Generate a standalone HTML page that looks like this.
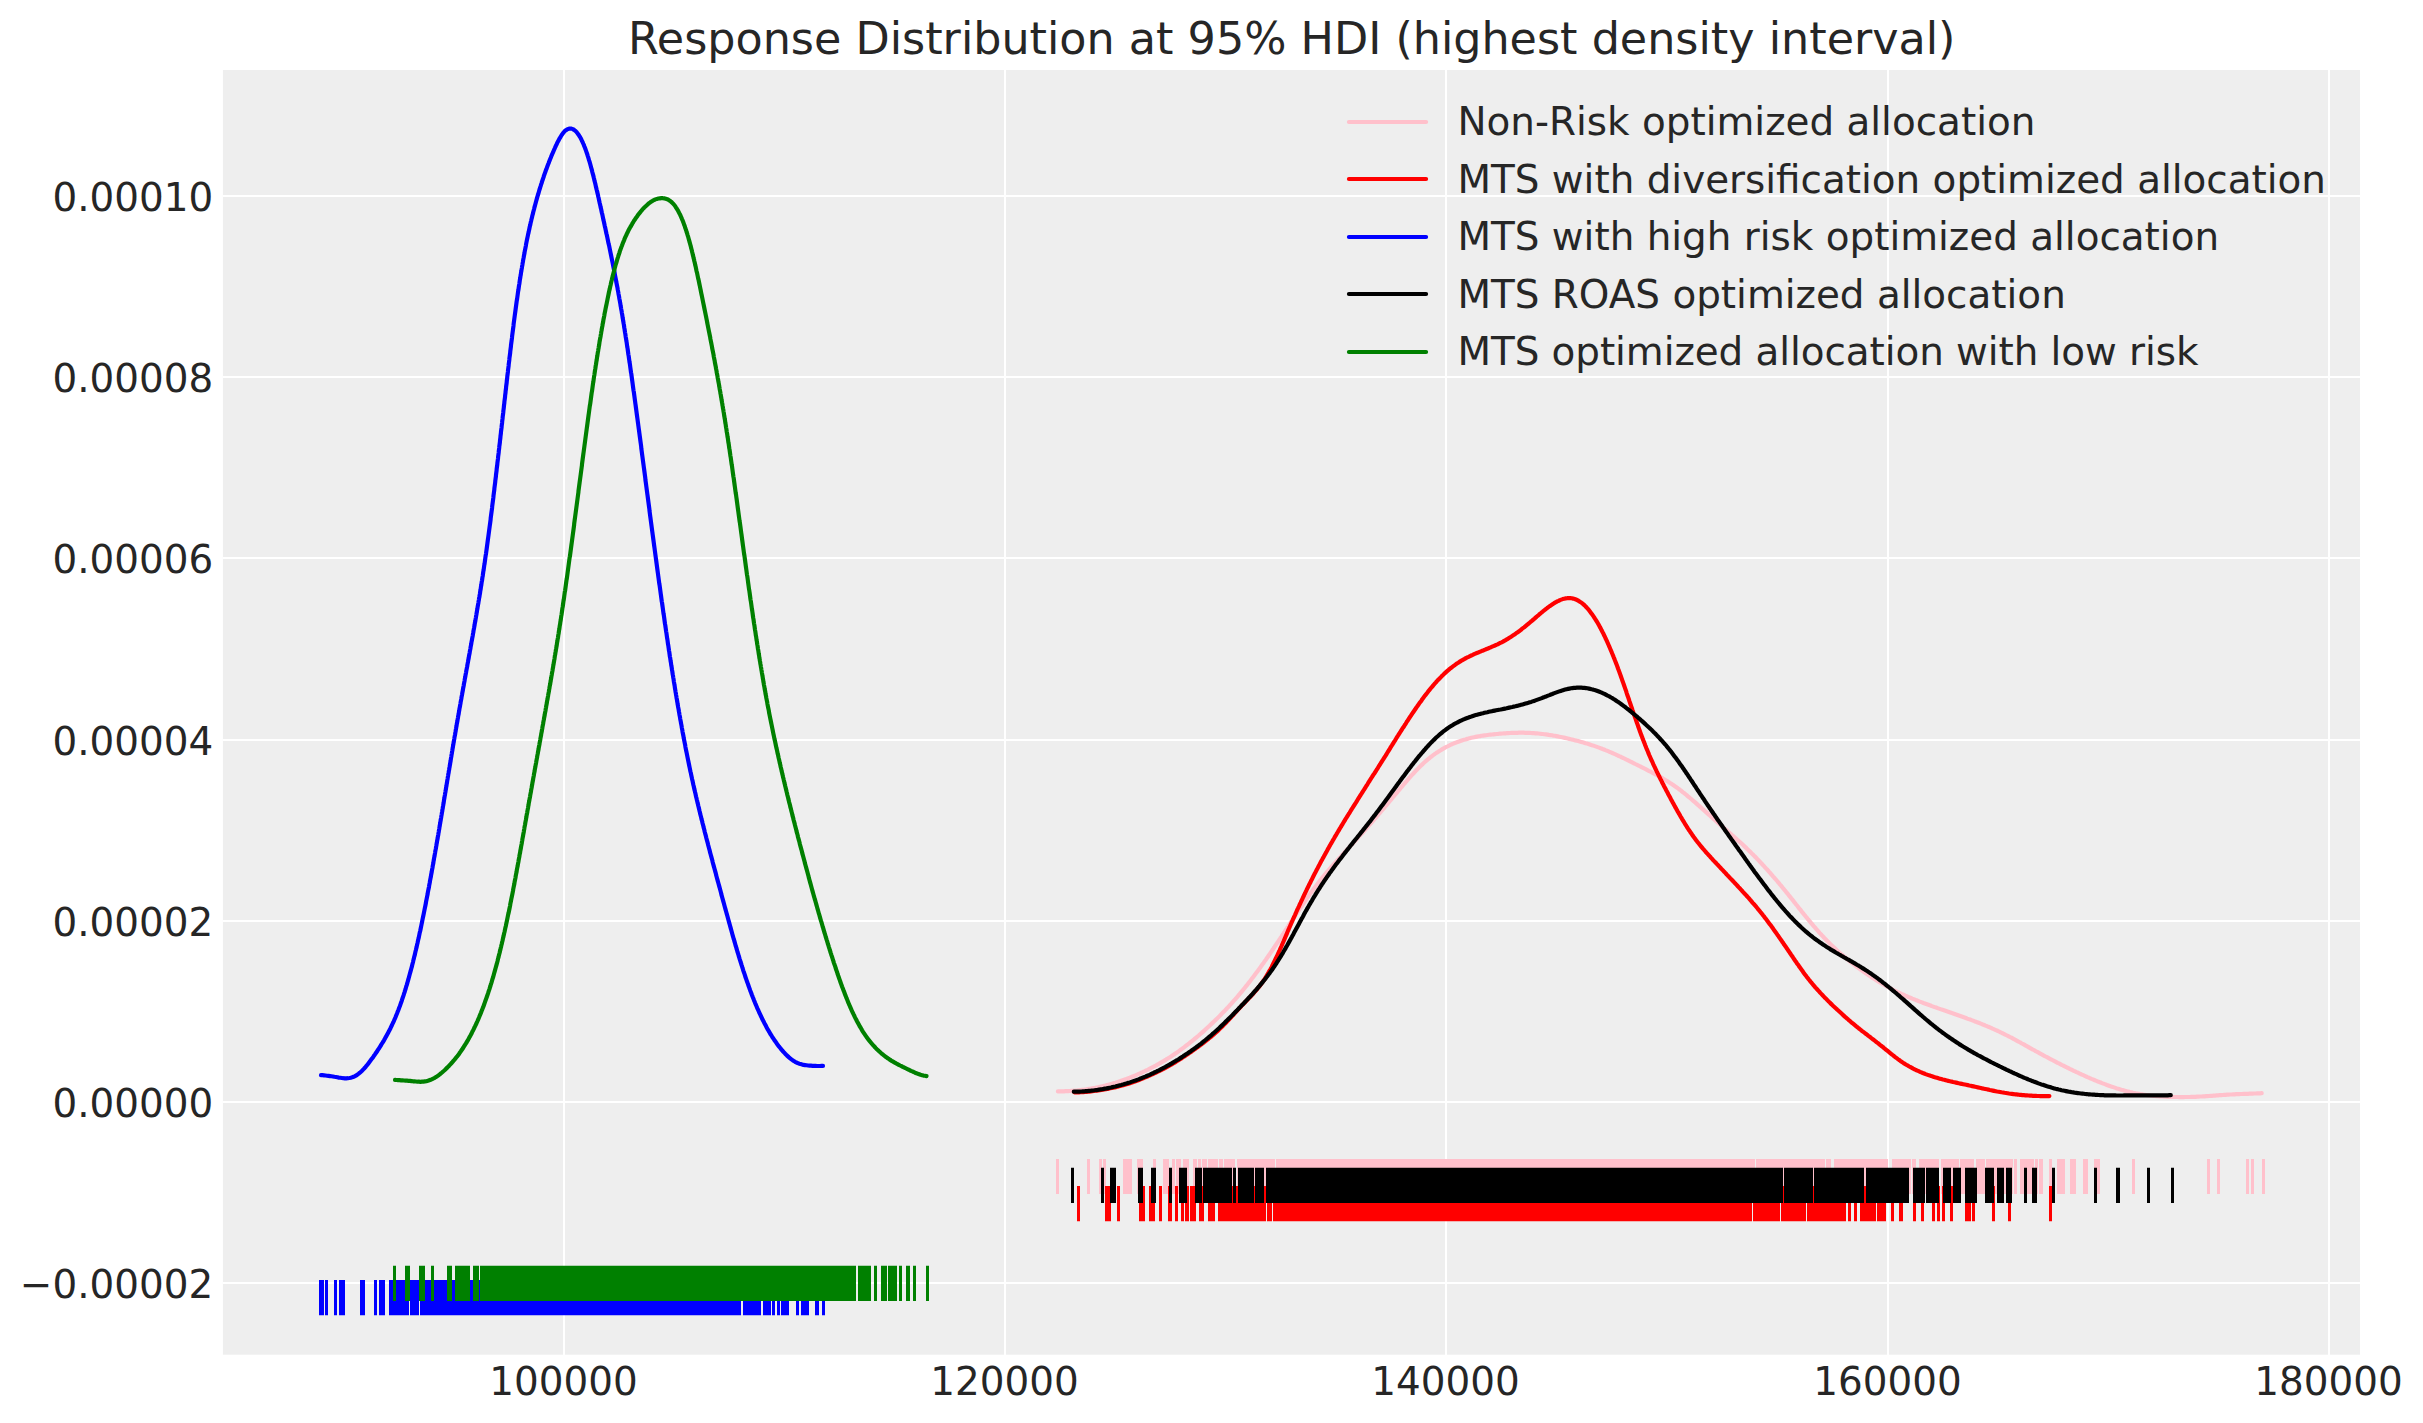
<!DOCTYPE html>
<html lang="en"><head><meta charset="utf-8"><title>Response Distribution at 95% HDI</title>
<style>
html,body{margin:0;padding:0;background:#fff;}
body{width:2423px;height:1423px;overflow:hidden;}
svg{display:block;}
text{font-family:"DejaVu Sans","Liberation Sans",sans-serif;fill:#262626;}
.t{font-size:38.89px;}
.title{font-size:44.44px;}
</style></head><body>
<svg width="2423" height="1423" viewBox="0 0 2423 1423">
<rect x="0" y="0" width="2423" height="1423" fill="#ffffff"/>
<rect x="222.9" y="70.0" width="2137.1" height="1284.7" fill="#eeeeee"/>
<g fill="#ffffff" shape-rendering="crispEdges">
<rect x="563" y="70.0" width="2" height="1284.7"/>
<rect x="1004" y="70.0" width="2" height="1284.7"/>
<rect x="1445" y="70.0" width="2" height="1284.7"/>
<rect x="1887" y="70.0" width="2" height="1284.7"/>
<rect x="2328" y="70.0" width="2" height="1284.7"/>
<rect x="222.9" y="195" width="2137.1" height="2"/>
<rect x="222.9" y="376" width="2137.1" height="2"/>
<rect x="222.9" y="557" width="2137.1" height="2"/>
<rect x="222.9" y="739" width="2137.1" height="2"/>
<rect x="222.9" y="920" width="2137.1" height="2"/>
<rect x="222.9" y="1101" width="2137.1" height="2"/>
<rect x="222.9" y="1282" width="2137.1" height="2"/>
</g>
<path d="M1057.9,1091.4 L1059.4,1091.4 L1060.9,1091.4 L1062.4,1091.4 L1063.9,1091.3 L1065.4,1091.2 L1066.9,1091.2 L1068.4,1091.1 L1069.9,1091.0 L1071.4,1090.9 L1072.9,1090.8 L1074.4,1090.7 L1075.9,1090.5 L1077.4,1090.4 L1078.9,1090.2 L1080.4,1090.1 L1081.9,1089.9 L1083.4,1089.7 L1084.9,1089.5 L1086.3,1089.3 L1087.8,1089.0 L1089.3,1088.8 L1090.8,1088.6 L1092.3,1088.3 L1093.8,1088.0 L1095.2,1087.8 L1096.7,1087.5 L1098.2,1087.2 L1099.6,1086.9 L1101.1,1086.5 L1102.6,1086.2 L1104.0,1085.9 L1105.5,1085.5 L1107.0,1085.1 L1108.4,1084.7 L1109.9,1084.4 L1111.3,1083.9 L1112.8,1083.5 L1114.2,1083.1 L1115.6,1082.7 L1117.1,1082.2 L1118.5,1081.7 L1119.9,1081.3 L1121.3,1080.8 L1122.8,1080.3 L1124.2,1079.8 L1125.6,1079.3 L1127.0,1078.7 L1128.4,1078.2 L1129.8,1077.7 L1131.2,1077.1 L1132.6,1076.5 L1134.0,1076.0 L1135.4,1075.4 L1136.7,1074.8 L1138.1,1074.2 L1139.5,1073.6 L1140.9,1073.0 L1142.2,1072.4 L1143.6,1071.7 L1145.0,1071.1 L1146.3,1070.4 L1147.7,1069.8 L1149.0,1069.1 L1150.3,1068.4 L1151.7,1067.7 L1153.0,1067.0 L1154.3,1066.3 L1155.7,1065.6 L1157.0,1064.9 L1158.3,1064.2 L1159.6,1063.4 L1160.9,1062.7 L1162.2,1061.9 L1163.5,1061.2 L1164.8,1060.4 L1166.1,1059.6 L1167.3,1058.8 L1168.6,1058.0 L1169.9,1057.2 L1171.1,1056.4 L1172.4,1055.5 L1173.6,1054.7 L1174.9,1053.9 L1176.1,1053.0 L1177.4,1052.2 L1178.6,1051.3 L1179.8,1050.4 L1181.0,1049.5 L1182.2,1048.7 L1183.4,1047.8 L1184.6,1046.9 L1185.8,1045.9 L1187.0,1045.0 L1188.2,1044.1 L1189.4,1043.2 L1190.6,1042.2 L1191.7,1041.3 L1192.9,1040.3 L1194.1,1039.4 L1195.2,1038.4 L1196.4,1037.5 L1197.5,1036.5 L1198.7,1035.5 L1199.8,1034.5 L1200.9,1033.5 L1202.1,1032.6 L1203.2,1031.6 L1204.3,1030.6 L1205.4,1029.5 L1206.5,1028.5 L1207.6,1027.5 L1208.7,1026.5 L1209.8,1025.5 L1210.9,1024.4 L1212.0,1023.4 L1213.1,1022.4 L1214.2,1021.3 L1215.3,1020.3 L1216.3,1019.2 L1217.4,1018.2 L1218.5,1017.1 L1219.5,1016.1 L1220.6,1015.0 L1221.6,1013.9 L1222.7,1012.8 L1223.7,1011.8 L1224.8,1010.7 L1225.8,1009.6 L1226.8,1008.5 L1227.9,1007.4 L1228.9,1006.3 L1229.9,1005.2 L1230.9,1004.1 L1231.9,1003.0 L1232.9,1001.8 L1233.9,1000.7 L1234.9,999.6 L1235.9,998.5 L1236.9,997.3 L1237.9,996.2 L1238.8,995.0 L1239.8,993.9 L1240.8,992.7 L1241.7,991.6 L1242.7,990.4 L1243.6,989.3 L1244.6,988.1 L1245.5,986.9 L1246.5,985.7 L1247.4,984.6 L1248.3,983.4 L1249.3,982.2 L1250.2,981.0 L1251.1,979.8 L1252.0,978.6 L1252.9,977.4 L1253.8,976.2 L1254.7,975.0 L1255.6,973.8 L1256.5,972.6 L1257.4,971.4 L1258.3,970.2 L1259.2,969.0 L1260.1,967.8 L1260.9,966.6 L1261.8,965.3 L1262.7,964.1 L1263.6,962.9 L1264.4,961.7 L1265.3,960.4 L1266.2,959.2 L1267.0,958.0 L1267.9,956.7 L1268.7,955.5 L1269.6,954.3 L1270.4,953.0 L1271.3,951.8 L1272.1,950.5 L1273.0,949.3 L1273.8,948.0 L1274.6,946.8 L1275.5,945.6 L1276.3,944.3 L1277.2,943.1 L1278.0,941.8 L1278.8,940.6 L1279.7,939.3 L1280.5,938.0 L1281.3,936.8 L1282.1,935.5 L1283.0,934.3 L1283.8,933.0 L1284.6,931.8 L1285.4,930.5 L1286.3,929.3 L1287.1,928.0 L1287.9,926.8 L1288.7,925.5 L1289.6,924.2 L1290.4,923.0 L1291.2,921.7 L1292.0,920.5 L1292.9,919.2 L1293.7,918.0 L1294.5,916.7 L1295.4,915.5 L1296.2,914.2 L1297.0,913.0 L1297.8,911.7 L1298.7,910.5 L1299.5,909.2 L1300.3,908.0 L1301.2,906.7 L1302.0,905.5 L1302.9,904.2 L1303.7,903.0 L1304.6,901.7 L1305.4,900.5 L1306.3,899.3 L1307.1,898.0 L1308.0,896.8 L1308.9,895.6 L1309.7,894.3 L1310.6,893.1 L1311.5,891.9 L1312.4,890.7 L1313.3,889.5 L1314.2,888.3 L1315.1,887.1 L1316.0,885.9 L1316.9,884.7 L1317.8,883.5 L1318.7,882.3 L1319.6,881.1 L1320.6,879.9 L1321.5,878.8 L1322.4,877.6 L1323.4,876.4 L1324.3,875.3 L1325.3,874.1 L1326.3,872.9 L1327.2,871.8 L1328.2,870.6 L1329.2,869.5 L1330.2,868.4 L1331.1,867.2 L1332.1,866.1 L1333.1,865.0 L1334.1,863.8 L1335.1,862.7 L1336.1,861.6 L1337.1,860.5 L1338.1,859.4 L1339.1,858.3 L1340.2,857.2 L1341.2,856.0 L1342.2,854.9 L1343.2,853.8 L1344.2,852.7 L1345.2,851.6 L1346.3,850.5 L1347.3,849.4 L1348.3,848.3 L1349.3,847.2 L1350.3,846.1 L1351.4,845.0 L1352.4,843.9 L1353.4,842.8 L1354.4,841.7 L1355.4,840.6 L1356.4,839.4 L1357.4,838.3 L1358.4,837.2 L1359.4,836.1 L1360.4,835.0 L1361.5,833.9 L1362.5,832.8 L1363.5,831.6 L1364.5,830.5 L1365.5,829.4 L1366.5,828.3 L1367.4,827.1 L1368.4,826.0 L1369.4,824.9 L1370.4,823.8 L1371.4,822.6 L1372.4,821.5 L1373.4,820.4 L1374.4,819.2 L1375.4,818.1 L1376.4,817.0 L1377.3,815.8 L1378.3,814.7 L1379.3,813.5 L1380.3,812.4 L1381.2,811.3 L1382.2,810.1 L1383.2,809.0 L1384.2,807.8 L1385.1,806.7 L1386.1,805.5 L1387.1,804.4 L1388.0,803.2 L1389.0,802.1 L1389.9,800.9 L1390.9,799.8 L1391.9,798.6 L1392.8,797.4 L1393.8,796.3 L1394.7,795.1 L1395.7,794.0 L1396.7,792.8 L1397.6,791.7 L1398.6,790.5 L1399.6,789.4 L1400.5,788.2 L1401.5,787.1 L1402.5,785.9 L1403.4,784.8 L1404.4,783.6 L1405.4,782.5 L1406.4,781.3 L1407.3,780.2 L1408.3,779.1 L1409.3,777.9 L1410.3,776.8 L1411.3,775.7 L1412.3,774.6 L1413.4,773.5 L1414.4,772.4 L1415.4,771.3 L1416.4,770.2 L1417.5,769.1 L1418.5,768.1 L1419.6,767.0 L1420.7,765.9 L1421.8,764.9 L1422.9,763.9 L1424.0,762.8 L1425.1,761.8 L1426.2,760.8 L1427.3,759.9 L1428.5,758.9 L1429.7,758.0 L1430.8,757.0 L1432.0,756.1 L1433.2,755.2 L1434.4,754.3 L1435.7,753.4 L1436.9,752.6 L1438.2,751.8 L1439.4,751.0 L1440.7,750.2 L1442.0,749.4 L1443.3,748.6 L1444.6,747.9 L1445.9,747.2 L1447.3,746.5 L1448.6,745.8 L1449.9,745.2 L1451.3,744.5 L1452.7,743.9 L1454.1,743.3 L1455.5,742.8 L1456.9,742.2 L1458.3,741.7 L1459.7,741.2 L1461.1,740.7 L1462.5,740.2 L1464.0,739.8 L1465.4,739.4 L1466.9,738.9 L1468.3,738.6 L1469.8,738.2 L1471.2,737.8 L1472.7,737.5 L1474.2,737.2 L1475.6,736.9 L1477.1,736.6 L1478.6,736.3 L1480.1,736.1 L1481.5,735.8 L1483.0,735.6 L1484.5,735.4 L1486.0,735.2 L1487.5,735.0 L1489.0,734.8 L1490.5,734.6 L1492.0,734.5 L1493.5,734.3 L1495.0,734.2 L1496.5,734.0 L1498.0,733.9 L1499.4,733.7 L1500.9,733.6 L1502.4,733.5 L1503.9,733.4 L1505.4,733.3 L1506.9,733.2 L1508.4,733.1 L1509.9,733.0 L1511.4,732.9 L1512.9,732.9 L1514.4,732.8 L1515.9,732.8 L1517.4,732.8 L1519.0,732.7 L1520.5,732.7 L1522.0,732.7 L1523.5,732.7 L1525.0,732.8 L1526.5,732.8 L1528.0,732.8 L1529.5,732.9 L1531.0,733.0 L1532.5,733.1 L1534.0,733.2 L1535.5,733.3 L1537.0,733.4 L1538.5,733.5 L1540.0,733.7 L1541.4,733.9 L1542.9,734.0 L1544.4,734.2 L1545.9,734.4 L1547.4,734.6 L1548.9,734.9 L1550.4,735.1 L1551.9,735.3 L1553.3,735.6 L1554.8,735.8 L1556.3,736.1 L1557.8,736.4 L1559.2,736.7 L1560.7,737.0 L1562.2,737.3 L1563.7,737.6 L1565.1,737.9 L1566.6,738.2 L1568.1,738.6 L1569.5,738.9 L1571.0,739.3 L1572.4,739.6 L1573.9,740.0 L1575.4,740.4 L1576.8,740.7 L1578.3,741.1 L1579.7,741.5 L1581.2,741.9 L1582.6,742.3 L1584.1,742.7 L1585.5,743.2 L1586.9,743.6 L1588.4,744.0 L1589.8,744.5 L1591.2,745.0 L1592.7,745.4 L1594.1,745.9 L1595.5,746.4 L1596.9,746.9 L1598.3,747.4 L1599.7,747.9 L1601.2,748.4 L1602.6,749.0 L1604.0,749.5 L1605.4,750.1 L1606.7,750.6 L1608.1,751.2 L1609.5,751.8 L1610.9,752.4 L1612.3,753.0 L1613.7,753.6 L1615.0,754.2 L1616.4,754.8 L1617.8,755.5 L1619.1,756.1 L1620.5,756.7 L1621.8,757.4 L1623.2,758.0 L1624.6,758.7 L1625.9,759.3 L1627.3,760.0 L1628.6,760.6 L1630.0,761.3 L1631.3,762.0 L1632.6,762.6 L1634.0,763.3 L1635.3,764.0 L1636.7,764.7 L1638.0,765.3 L1639.4,766.0 L1640.7,766.7 L1642.0,767.4 L1643.4,768.0 L1644.7,768.7 L1646.1,769.4 L1647.4,770.1 L1648.7,770.8 L1650.1,771.5 L1651.4,772.2 L1652.7,772.9 L1654.1,773.6 L1655.4,774.3 L1656.7,775.0 L1658.0,775.7 L1659.3,776.5 L1660.6,777.2 L1661.9,777.9 L1663.2,778.7 L1664.5,779.5 L1665.8,780.3 L1667.1,781.0 L1668.4,781.8 L1669.6,782.7 L1670.9,783.5 L1672.1,784.3 L1673.4,785.1 L1674.6,786.0 L1675.8,786.9 L1677.1,787.7 L1678.3,788.6 L1679.5,789.5 L1680.7,790.4 L1681.9,791.4 L1683.0,792.3 L1684.2,793.2 L1685.4,794.2 L1686.6,795.1 L1687.7,796.1 L1688.9,797.1 L1690.0,798.0 L1691.2,799.0 L1692.3,800.0 L1693.4,801.0 L1694.6,801.9 L1695.7,802.9 L1696.8,803.9 L1697.9,804.9 L1699.1,805.9 L1700.2,806.9 L1701.3,807.9 L1702.4,808.9 L1703.6,809.9 L1704.7,810.9 L1705.8,811.9 L1706.9,812.9 L1708.0,813.9 L1709.1,814.9 L1710.3,815.9 L1711.4,816.9 L1712.5,817.9 L1713.6,818.9 L1714.8,819.9 L1715.9,820.9 L1717.0,821.9 L1718.1,822.9 L1719.3,823.9 L1720.4,824.9 L1721.5,825.9 L1722.7,826.9 L1723.8,827.8 L1724.9,828.8 L1726.1,829.8 L1727.2,830.8 L1728.3,831.8 L1729.5,832.8 L1730.6,833.8 L1731.7,834.8 L1732.9,835.8 L1734.0,836.8 L1735.1,837.8 L1736.2,838.8 L1737.3,839.8 L1738.5,840.8 L1739.6,841.8 L1740.7,842.8 L1741.8,843.8 L1742.9,844.8 L1744.0,845.9 L1745.1,846.9 L1746.2,847.9 L1747.2,849.0 L1748.3,850.0 L1749.4,851.1 L1750.5,852.1 L1751.5,853.2 L1752.6,854.2 L1753.7,855.3 L1754.7,856.4 L1755.8,857.4 L1756.8,858.5 L1757.9,859.6 L1758.9,860.7 L1759.9,861.8 L1761.0,862.9 L1762.0,864.0 L1763.0,865.1 L1764.0,866.2 L1765.0,867.3 L1766.0,868.4 L1767.1,869.5 L1768.1,870.6 L1769.1,871.8 L1770.1,872.9 L1771.0,874.0 L1772.0,875.1 L1773.0,876.3 L1774.0,877.4 L1775.0,878.6 L1776.0,879.7 L1776.9,880.8 L1777.9,882.0 L1778.9,883.1 L1779.8,884.3 L1780.8,885.4 L1781.8,886.6 L1782.7,887.8 L1783.7,888.9 L1784.6,890.1 L1785.6,891.2 L1786.5,892.4 L1787.5,893.6 L1788.4,894.8 L1789.3,895.9 L1790.3,897.1 L1791.2,898.3 L1792.2,899.4 L1793.1,900.6 L1794.0,901.8 L1795.0,903.0 L1795.9,904.2 L1796.8,905.3 L1797.8,906.5 L1798.7,907.7 L1799.6,908.9 L1800.6,910.0 L1801.5,911.2 L1802.4,912.4 L1803.4,913.6 L1804.3,914.7 L1805.3,915.9 L1806.2,917.1 L1807.2,918.2 L1808.1,919.4 L1809.1,920.5 L1810.0,921.7 L1811.0,922.9 L1812.0,924.0 L1812.9,925.2 L1813.9,926.3 L1814.9,927.4 L1815.9,928.6 L1816.9,929.7 L1817.8,930.8 L1818.8,932.0 L1819.8,933.1 L1820.9,934.2 L1821.9,935.3 L1822.9,936.4 L1823.9,937.5 L1825.0,938.6 L1826.0,939.7 L1827.0,940.8 L1828.1,941.8 L1829.2,942.9 L1830.2,943.9 L1831.3,945.0 L1832.4,946.0 L1833.5,947.1 L1834.6,948.1 L1835.7,949.1 L1836.8,950.2 L1837.9,951.2 L1839.0,952.2 L1840.1,953.2 L1841.2,954.2 L1842.4,955.2 L1843.5,956.1 L1844.7,957.1 L1845.8,958.1 L1847.0,959.0 L1848.1,960.0 L1849.3,960.9 L1850.5,961.9 L1851.6,962.8 L1852.8,963.7 L1854.0,964.7 L1855.2,965.6 L1856.4,966.5 L1857.6,967.4 L1858.8,968.3 L1860.0,969.2 L1861.2,970.0 L1862.5,970.9 L1863.7,971.8 L1864.9,972.7 L1866.1,973.5 L1867.4,974.4 L1868.6,975.2 L1869.9,976.0 L1871.1,976.9 L1872.4,977.7 L1873.6,978.5 L1874.9,979.3 L1876.2,980.1 L1877.5,980.9 L1878.7,981.7 L1880.0,982.5 L1881.3,983.3 L1882.6,984.0 L1883.9,984.8 L1885.2,985.5 L1886.5,986.3 L1887.8,987.0 L1889.1,987.7 L1890.5,988.4 L1891.8,989.1 L1893.1,989.8 L1894.5,990.5 L1895.8,991.2 L1897.2,991.8 L1898.5,992.5 L1899.9,993.1 L1901.2,993.8 L1902.6,994.4 L1904.0,995.0 L1905.3,995.6 L1906.7,996.2 L1908.1,996.8 L1909.5,997.4 L1910.9,998.0 L1912.2,998.6 L1913.6,999.1 L1915.0,999.7 L1916.4,1000.3 L1917.8,1000.8 L1919.2,1001.4 L1920.6,1001.9 L1922.0,1002.4 L1923.4,1003.0 L1924.8,1003.5 L1926.3,1004.0 L1927.7,1004.5 L1929.1,1005.0 L1930.5,1005.5 L1931.9,1006.1 L1933.3,1006.6 L1934.7,1007.1 L1936.2,1007.6 L1937.6,1008.1 L1939.0,1008.6 L1940.4,1009.1 L1941.8,1009.6 L1943.2,1010.0 L1944.7,1010.5 L1946.1,1011.0 L1947.5,1011.5 L1948.9,1012.0 L1950.3,1012.5 L1951.8,1013.0 L1953.2,1013.5 L1954.6,1014.0 L1956.0,1014.5 L1957.4,1015.0 L1958.8,1015.5 L1960.3,1016.0 L1961.7,1016.5 L1963.1,1017.0 L1964.5,1017.5 L1965.9,1018.0 L1967.3,1018.6 L1968.7,1019.1 L1970.2,1019.6 L1971.6,1020.1 L1973.0,1020.6 L1974.4,1021.2 L1975.8,1021.7 L1977.2,1022.3 L1978.6,1022.8 L1980.0,1023.3 L1981.4,1023.9 L1982.8,1024.5 L1984.2,1025.0 L1985.5,1025.6 L1986.9,1026.2 L1988.3,1026.8 L1989.7,1027.3 L1991.1,1027.9 L1992.5,1028.6 L1993.8,1029.2 L1995.2,1029.8 L1996.6,1030.4 L1997.9,1031.0 L1999.3,1031.7 L2000.6,1032.3 L2002.0,1033.0 L2003.3,1033.6 L2004.7,1034.3 L2006.0,1035.0 L2007.4,1035.7 L2008.7,1036.3 L2010.0,1037.0 L2011.4,1037.7 L2012.7,1038.4 L2014.0,1039.2 L2015.4,1039.9 L2016.7,1040.6 L2018.0,1041.3 L2019.3,1042.0 L2020.6,1042.7 L2021.9,1043.5 L2023.3,1044.2 L2024.6,1044.9 L2025.9,1045.7 L2027.2,1046.4 L2028.5,1047.1 L2029.8,1047.9 L2031.1,1048.6 L2032.4,1049.3 L2033.8,1050.0 L2035.1,1050.8 L2036.4,1051.5 L2037.7,1052.2 L2039.0,1052.9 L2040.3,1053.7 L2041.7,1054.4 L2043.0,1055.1 L2044.3,1055.8 L2045.6,1056.5 L2047.0,1057.2 L2048.3,1057.9 L2049.6,1058.6 L2051.0,1059.3 L2052.3,1060.0 L2053.6,1060.7 L2055.0,1061.4 L2056.3,1062.1 L2057.6,1062.8 L2059.0,1063.4 L2060.3,1064.1 L2061.6,1064.8 L2063.0,1065.5 L2064.3,1066.1 L2065.7,1066.8 L2067.0,1067.5 L2068.4,1068.1 L2069.7,1068.8 L2071.1,1069.5 L2072.4,1070.1 L2073.8,1070.8 L2075.1,1071.4 L2076.5,1072.1 L2077.9,1072.7 L2079.2,1073.3 L2080.6,1074.0 L2081.9,1074.6 L2083.3,1075.2 L2084.7,1075.8 L2086.1,1076.5 L2087.4,1077.1 L2088.8,1077.7 L2090.2,1078.3 L2091.6,1078.9 L2092.9,1079.4 L2094.3,1080.0 L2095.7,1080.6 L2097.1,1081.2 L2098.5,1081.7 L2099.9,1082.3 L2101.3,1082.8 L2102.7,1083.4 L2104.1,1083.9 L2105.5,1084.4 L2106.9,1085.0 L2108.3,1085.5 L2109.7,1086.0 L2111.2,1086.5 L2112.6,1086.9 L2114.0,1087.4 L2115.4,1087.9 L2116.9,1088.4 L2118.3,1088.8 L2119.7,1089.2 L2121.2,1089.7 L2122.6,1090.1 L2124.1,1090.5 L2125.5,1090.9 L2127.0,1091.3 L2128.4,1091.6 L2129.9,1092.0 L2131.4,1092.3 L2132.8,1092.7 L2134.3,1093.0 L2135.8,1093.3 L2137.2,1093.5 L2138.7,1093.8 L2140.2,1094.1 L2141.7,1094.3 L2143.2,1094.6 L2144.7,1094.8 L2146.1,1095.0 L2147.6,1095.2 L2149.1,1095.4 L2150.6,1095.5 L2152.1,1095.7 L2153.6,1095.9 L2155.1,1096.0 L2156.6,1096.1 L2158.1,1096.2 L2159.6,1096.3 L2161.1,1096.4 L2162.6,1096.5 L2164.1,1096.6 L2165.6,1096.7 L2167.1,1096.8 L2168.6,1096.8 L2170.1,1096.9 L2171.6,1096.9 L2173.1,1097.0 L2174.6,1097.0 L2176.1,1097.0 L2177.6,1097.0 L2179.1,1097.1 L2180.6,1097.1 L2182.1,1097.1 L2183.6,1097.1 L2185.1,1097.0 L2186.6,1097.0 L2188.1,1097.0 L2189.6,1097.0 L2191.1,1096.9 L2192.6,1096.9 L2194.1,1096.8 L2195.6,1096.8 L2197.1,1096.7 L2198.6,1096.6 L2200.1,1096.5 L2201.6,1096.5 L2203.1,1096.4 L2204.6,1096.3 L2206.1,1096.2 L2207.6,1096.1 L2209.1,1096.0 L2210.6,1095.9 L2212.1,1095.8 L2213.6,1095.7 L2215.1,1095.6 L2216.6,1095.4 L2218.1,1095.3 L2219.6,1095.2 L2221.1,1095.1 L2222.6,1095.0 L2224.1,1094.9 L2225.6,1094.8 L2227.1,1094.7 L2228.6,1094.6 L2230.1,1094.5 L2231.6,1094.5 L2233.1,1094.4 L2234.6,1094.3 L2236.1,1094.2 L2237.6,1094.2 L2239.1,1094.1 L2240.6,1094.0 L2242.1,1094.0 L2243.6,1093.9 L2245.1,1093.9 L2246.6,1093.8 L2248.1,1093.8 L2249.6,1093.7 L2251.1,1093.6 L2252.6,1093.6 L2254.1,1093.5 L2255.6,1093.5 L2257.1,1093.4 L2258.6,1093.3 L2260.1,1093.3 L2261.7,1093.2" fill="none" stroke="#ffc0cb" stroke-width="4.17" stroke-linecap="round" stroke-linejoin="round"/>
<path d="M1056,1158.9H1059V1194.1H1056ZM1087,1158.9H1090V1194.1H1087ZM1099,1158.9H1102V1194.1H1099ZM1103,1158.9H1106V1194.1H1103ZM1123,1158.9H1132V1194.1H1123ZM1137,1158.9H1143V1194.1H1137ZM1153,1158.9H1156V1194.1H1153ZM1163,1158.9H1169V1194.1H1163ZM1172,1158.9H1175V1194.1H1172ZM1176,1158.9H1181V1194.1H1176ZM1183,1158.9H1189V1194.1H1183ZM1193,1158.9H1197V1194.1H1193ZM1198,1158.9H1201V1194.1H1198ZM1202,1158.9H1207V1194.1H1202ZM1208,1158.9H1218V1194.1H1208ZM1219,1158.9H1223V1194.1H1219ZM1224,1158.9H1235V1194.1H1224ZM1237,1158.9H1275V1194.1H1237ZM1276,1158.9H1755V1194.1H1276ZM1756,1158.9H1825V1194.1H1756ZM1826,1158.9H1831V1194.1H1826ZM1834,1158.9H1888V1194.1H1834ZM1892,1158.9H1911V1194.1H1892ZM1912,1158.9H1916V1194.1H1912ZM1919,1158.9H1939V1194.1H1919ZM1941,1158.9H1959V1194.1H1941ZM1960,1158.9H1974V1194.1H1960ZM1976,1158.9H1985V1194.1H1976ZM1986,1158.9H2013V1194.1H1986ZM2014,1158.9H2017V1194.1H2014ZM2020,1158.9H2034V1194.1H2020ZM2035,1158.9H2038V1194.1H2035ZM2039,1158.9H2043V1194.1H2039ZM2049,1158.9H2052V1194.1H2049ZM2057,1158.9H2065V1194.1H2057ZM2070,1158.9H2076V1194.1H2070ZM2083,1158.9H2088V1194.1H2083ZM2094,1158.9H2100V1194.1H2094ZM2132,1158.9H2135V1194.1H2132ZM2207,1158.9H2210V1194.1H2207ZM2217,1158.9H2220V1194.1H2217ZM2246,1158.9H2249V1194.1H2246ZM2251,1158.9H2254V1194.1H2251ZM2262,1158.9H2265V1194.1H2262Z" fill="#ffc0cb"/>
<path d="M1074.4,1092.3 L1075.9,1092.3 L1077.4,1092.3 L1078.9,1092.3 L1080.4,1092.2 L1081.9,1092.2 L1083.4,1092.1 L1084.9,1092.0 L1086.4,1091.8 L1087.9,1091.7 L1089.4,1091.6 L1090.9,1091.4 L1092.4,1091.2 L1093.9,1091.0 L1095.4,1090.8 L1096.9,1090.6 L1098.3,1090.4 L1099.8,1090.2 L1101.3,1089.9 L1102.8,1089.7 L1104.3,1089.4 L1105.8,1089.2 L1107.2,1088.9 L1108.7,1088.6 L1110.2,1088.3 L1111.7,1088.0 L1113.1,1087.7 L1114.6,1087.4 L1116.1,1087.1 L1117.5,1086.7 L1119.0,1086.3 L1120.4,1086.0 L1121.9,1085.6 L1123.3,1085.2 L1124.8,1084.8 L1126.2,1084.3 L1127.7,1083.9 L1129.1,1083.5 L1130.5,1083.0 L1131.9,1082.5 L1133.4,1082.0 L1134.8,1081.5 L1136.2,1081.0 L1137.6,1080.5 L1139.0,1080.0 L1140.4,1079.4 L1141.8,1078.8 L1143.2,1078.3 L1144.6,1077.7 L1146.0,1077.1 L1147.4,1076.5 L1148.7,1075.9 L1150.1,1075.3 L1151.5,1074.7 L1152.8,1074.1 L1154.2,1073.4 L1155.6,1072.8 L1156.9,1072.2 L1158.3,1071.5 L1159.6,1070.8 L1161.0,1070.1 L1162.3,1069.5 L1163.6,1068.8 L1165.0,1068.1 L1166.3,1067.3 L1167.6,1066.6 L1168.9,1065.9 L1170.2,1065.2 L1171.5,1064.4 L1172.8,1063.6 L1174.1,1062.9 L1175.4,1062.1 L1176.7,1061.3 L1178.0,1060.5 L1179.2,1059.7 L1180.5,1058.9 L1181.8,1058.1 L1183.0,1057.3 L1184.3,1056.5 L1185.5,1055.6 L1186.8,1054.8 L1188.0,1053.9 L1189.2,1053.1 L1190.5,1052.2 L1191.7,1051.4 L1192.9,1050.5 L1194.2,1049.6 L1195.4,1048.8 L1196.6,1047.9 L1197.8,1047.0 L1199.0,1046.1 L1200.3,1045.2 L1201.5,1044.3 L1202.7,1043.4 L1203.9,1042.5 L1205.0,1041.6 L1206.2,1040.7 L1207.4,1039.7 L1208.6,1038.8 L1209.7,1037.8 L1210.9,1036.9 L1212.0,1035.9 L1213.2,1034.9 L1214.3,1033.9 L1215.4,1032.9 L1216.6,1031.9 L1217.7,1030.9 L1218.8,1029.9 L1219.8,1028.9 L1220.9,1027.8 L1222.0,1026.7 L1223.0,1025.7 L1224.1,1024.6 L1225.2,1023.5 L1226.2,1022.5 L1227.2,1021.4 L1228.3,1020.3 L1229.3,1019.2 L1230.3,1018.1 L1231.3,1017.0 L1232.4,1015.9 L1233.4,1014.8 L1234.4,1013.7 L1235.4,1012.5 L1236.4,1011.4 L1237.4,1010.3 L1238.5,1009.2 L1239.5,1008.1 L1240.5,1007.0 L1241.5,1005.9 L1242.6,1004.8 L1243.6,1003.8 L1244.7,1002.7 L1245.7,1001.6 L1246.7,1000.5 L1247.8,999.4 L1248.8,998.3 L1249.9,997.3 L1250.9,996.2 L1251.9,995.1 L1252.9,994.0 L1253.9,992.8 L1254.9,991.7 L1255.9,990.6 L1256.9,989.4 L1257.8,988.3 L1258.8,987.1 L1259.7,985.9 L1260.6,984.7 L1261.5,983.5 L1262.4,982.3 L1263.3,981.1 L1264.1,979.8 L1264.9,978.6 L1265.7,977.3 L1266.5,976.0 L1267.3,974.7 L1268.1,973.4 L1268.8,972.1 L1269.5,970.8 L1270.3,969.5 L1271.0,968.2 L1271.7,966.9 L1272.4,965.5 L1273.0,964.2 L1273.7,962.8 L1274.4,961.5 L1275.0,960.1 L1275.7,958.8 L1276.3,957.4 L1277.0,956.1 L1277.6,954.7 L1278.2,953.3 L1278.8,952.0 L1279.5,950.6 L1280.1,949.2 L1280.7,947.8 L1281.3,946.5 L1281.9,945.1 L1282.5,943.7 L1283.1,942.3 L1283.7,941.0 L1284.3,939.6 L1284.9,938.2 L1285.5,936.8 L1286.1,935.4 L1286.7,934.1 L1287.2,932.7 L1287.8,931.3 L1288.4,929.9 L1289.0,928.5 L1289.6,927.2 L1290.2,925.8 L1290.8,924.4 L1291.4,923.0 L1292.0,921.6 L1292.6,920.3 L1293.2,918.9 L1293.9,917.5 L1294.5,916.1 L1295.1,914.8 L1295.7,913.4 L1296.3,912.0 L1296.9,910.7 L1297.5,909.3 L1298.2,907.9 L1298.8,906.6 L1299.4,905.2 L1300.1,903.8 L1300.7,902.5 L1301.3,901.1 L1302.0,899.7 L1302.6,898.4 L1303.2,897.0 L1303.9,895.7 L1304.5,894.3 L1305.2,893.0 L1305.8,891.6 L1306.5,890.2 L1307.1,888.9 L1307.8,887.5 L1308.5,886.2 L1309.1,884.8 L1309.8,883.5 L1310.5,882.2 L1311.1,880.8 L1311.8,879.5 L1312.5,878.1 L1313.2,876.8 L1313.8,875.4 L1314.5,874.1 L1315.2,872.8 L1315.9,871.4 L1316.6,870.1 L1317.3,868.8 L1318.0,867.4 L1318.7,866.1 L1319.4,864.8 L1320.1,863.4 L1320.8,862.1 L1321.5,860.8 L1322.2,859.5 L1322.9,858.1 L1323.7,856.8 L1324.4,855.5 L1325.1,854.2 L1325.8,852.9 L1326.6,851.6 L1327.3,850.3 L1328.0,848.9 L1328.8,847.6 L1329.5,846.3 L1330.2,845.0 L1331.0,843.7 L1331.7,842.4 L1332.5,841.1 L1333.2,839.8 L1334.0,838.5 L1334.7,837.2 L1335.5,835.9 L1336.3,834.6 L1337.0,833.3 L1337.8,832.0 L1338.6,830.7 L1339.3,829.4 L1340.1,828.1 L1340.9,826.9 L1341.6,825.6 L1342.4,824.3 L1343.2,823.0 L1344.0,821.7 L1344.8,820.4 L1345.5,819.1 L1346.3,817.9 L1347.1,816.6 L1347.9,815.3 L1348.7,814.0 L1349.5,812.8 L1350.3,811.5 L1351.1,810.2 L1351.9,808.9 L1352.7,807.7 L1353.5,806.4 L1354.3,805.1 L1355.1,803.8 L1355.9,802.6 L1356.7,801.3 L1357.5,800.0 L1358.3,798.7 L1359.1,797.5 L1359.9,796.2 L1360.7,794.9 L1361.5,793.7 L1362.3,792.4 L1363.1,791.1 L1363.9,789.9 L1364.7,788.6 L1365.5,787.3 L1366.3,786.0 L1367.1,784.8 L1367.9,783.5 L1368.7,782.2 L1369.5,781.0 L1370.3,779.7 L1371.1,778.4 L1371.9,777.2 L1372.7,775.9 L1373.5,774.6 L1374.4,773.4 L1375.2,772.1 L1376.0,770.8 L1376.8,769.5 L1377.6,768.3 L1378.4,767.0 L1379.2,765.7 L1380.0,764.5 L1380.8,763.2 L1381.6,761.9 L1382.4,760.6 L1383.2,759.4 L1384.0,758.1 L1384.8,756.8 L1385.6,755.6 L1386.4,754.3 L1387.2,753.0 L1388.0,751.7 L1388.8,750.5 L1389.6,749.2 L1390.3,747.9 L1391.1,746.6 L1391.9,745.4 L1392.7,744.1 L1393.5,742.8 L1394.3,741.5 L1395.1,740.3 L1395.9,739.0 L1396.7,737.7 L1397.5,736.4 L1398.3,735.2 L1399.1,733.9 L1399.9,732.6 L1400.7,731.4 L1401.5,730.1 L1402.3,728.8 L1403.2,727.6 L1404.0,726.3 L1404.8,725.0 L1405.6,723.8 L1406.4,722.5 L1407.2,721.2 L1408.1,720.0 L1408.9,718.7 L1409.7,717.5 L1410.5,716.2 L1411.4,715.0 L1412.2,713.7 L1413.0,712.5 L1413.9,711.2 L1414.7,710.0 L1415.6,708.7 L1416.4,707.5 L1417.3,706.3 L1418.2,705.0 L1419.0,703.8 L1419.9,702.6 L1420.8,701.4 L1421.7,700.2 L1422.5,698.9 L1423.4,697.7 L1424.3,696.5 L1425.2,695.3 L1426.2,694.1 L1427.1,693.0 L1428.0,691.8 L1428.9,690.6 L1429.9,689.4 L1430.8,688.3 L1431.8,687.1 L1432.8,686.0 L1433.7,684.8 L1434.7,683.7 L1435.7,682.6 L1436.7,681.4 L1437.7,680.3 L1438.8,679.2 L1439.8,678.2 L1440.9,677.1 L1441.9,676.0 L1443.0,675.0 L1444.1,673.9 L1445.2,672.9 L1446.3,671.9 L1447.4,670.9 L1448.6,669.9 L1449.7,668.9 L1450.9,668.0 L1452.1,667.1 L1453.3,666.2 L1454.5,665.3 L1455.7,664.4 L1456.9,663.5 L1458.2,662.7 L1459.4,661.9 L1460.7,661.1 L1462.0,660.3 L1463.3,659.6 L1464.6,658.9 L1465.9,658.1 L1467.3,657.4 L1468.6,656.8 L1470.0,656.1 L1471.3,655.5 L1472.7,654.9 L1474.1,654.2 L1475.4,653.6 L1476.8,653.0 L1478.2,652.5 L1479.6,651.9 L1481.0,651.3 L1482.4,650.7 L1483.8,650.2 L1485.2,649.6 L1486.6,649.0 L1488.0,648.5 L1489.3,647.9 L1490.7,647.3 L1492.1,646.7 L1493.5,646.1 L1494.9,645.5 L1496.2,644.9 L1497.6,644.3 L1498.9,643.6 L1500.3,642.9 L1501.6,642.3 L1503.0,641.6 L1504.3,640.8 L1505.6,640.1 L1506.9,639.3 L1508.2,638.6 L1509.4,637.8 L1510.7,637.0 L1512.0,636.1 L1513.2,635.3 L1514.5,634.5 L1515.7,633.6 L1516.9,632.7 L1518.1,631.9 L1519.4,631.0 L1520.6,630.1 L1521.7,629.1 L1522.9,628.2 L1524.1,627.3 L1525.3,626.3 L1526.4,625.4 L1527.6,624.4 L1528.8,623.5 L1529.9,622.5 L1531.0,621.5 L1532.2,620.6 L1533.3,619.6 L1534.5,618.6 L1535.6,617.6 L1536.7,616.6 L1537.9,615.7 L1539.0,614.7 L1540.2,613.7 L1541.3,612.7 L1542.5,611.8 L1543.6,610.8 L1544.8,609.9 L1546.0,609.0 L1547.2,608.0 L1548.4,607.1 L1549.6,606.2 L1550.8,605.4 L1552.1,604.5 L1553.3,603.7 L1554.6,602.9 L1555.9,602.2 L1557.2,601.4 L1558.6,600.8 L1559.9,600.1 L1561.3,599.6 L1562.7,599.1 L1564.2,598.7 L1565.7,598.4 L1567.2,598.2 L1568.7,598.1 L1570.2,598.1 L1571.7,598.3 L1573.1,598.6 L1574.6,599.0 L1576.0,599.5 L1577.3,600.1 L1578.7,600.9 L1579.9,601.7 L1581.2,602.5 L1582.3,603.4 L1583.5,604.4 L1584.6,605.4 L1585.7,606.5 L1586.7,607.6 L1587.7,608.7 L1588.7,609.8 L1589.6,611.0 L1590.5,612.2 L1591.4,613.4 L1592.3,614.6 L1593.2,615.9 L1594.0,617.1 L1594.8,618.4 L1595.6,619.6 L1596.4,620.9 L1597.2,622.2 L1598.0,623.5 L1598.7,624.8 L1599.4,626.1 L1600.1,627.4 L1600.9,628.8 L1601.5,630.1 L1602.2,631.4 L1602.9,632.8 L1603.6,634.1 L1604.2,635.5 L1604.9,636.8 L1605.5,638.2 L1606.2,639.6 L1606.8,640.9 L1607.4,642.3 L1608.0,643.7 L1608.6,645.0 L1609.2,646.4 L1609.8,647.8 L1610.4,649.2 L1611.0,650.6 L1611.6,652.0 L1612.1,653.3 L1612.7,654.7 L1613.3,656.1 L1613.8,657.5 L1614.4,658.9 L1614.9,660.3 L1615.5,661.7 L1616.0,663.1 L1616.6,664.5 L1617.1,665.9 L1617.6,667.3 L1618.1,668.7 L1618.7,670.2 L1619.2,671.6 L1619.7,673.0 L1620.2,674.4 L1620.7,675.8 L1621.2,677.2 L1621.7,678.6 L1622.2,680.1 L1622.7,681.5 L1623.2,682.9 L1623.7,684.3 L1624.2,685.7 L1624.7,687.2 L1625.2,688.6 L1625.7,690.0 L1626.2,691.4 L1626.6,692.8 L1627.1,694.3 L1627.6,695.7 L1628.1,697.1 L1628.6,698.5 L1629.1,700.0 L1629.5,701.4 L1630.0,702.8 L1630.5,704.2 L1631.0,705.6 L1631.5,707.1 L1632.0,708.5 L1632.4,709.9 L1632.9,711.3 L1633.4,712.8 L1633.9,714.2 L1634.4,715.6 L1634.9,717.0 L1635.4,718.4 L1635.9,719.9 L1636.4,721.3 L1636.9,722.7 L1637.4,724.1 L1637.9,725.5 L1638.4,727.0 L1638.9,728.4 L1639.4,729.8 L1639.9,731.2 L1640.4,732.6 L1640.9,734.0 L1641.4,735.4 L1642.0,736.8 L1642.5,738.2 L1643.0,739.6 L1643.6,741.0 L1644.1,742.4 L1644.7,743.8 L1645.2,745.2 L1645.8,746.6 L1646.3,748.0 L1646.9,749.4 L1647.5,750.8 L1648.1,752.2 L1648.6,753.6 L1649.2,755.0 L1649.8,756.3 L1650.4,757.7 L1651.0,759.1 L1651.6,760.5 L1652.3,761.8 L1652.9,763.2 L1653.5,764.6 L1654.1,765.9 L1654.8,767.3 L1655.4,768.7 L1656.1,770.0 L1656.7,771.4 L1657.4,772.7 L1658.0,774.1 L1658.7,775.4 L1659.3,776.8 L1660.0,778.1 L1660.7,779.5 L1661.4,780.8 L1662.0,782.2 L1662.7,783.5 L1663.4,784.8 L1664.1,786.2 L1664.8,787.5 L1665.5,788.8 L1666.2,790.2 L1666.9,791.5 L1667.6,792.8 L1668.3,794.2 L1669.0,795.5 L1669.7,796.8 L1670.4,798.1 L1671.1,799.5 L1671.8,800.8 L1672.5,802.1 L1673.3,803.4 L1674.0,804.7 L1674.7,806.1 L1675.4,807.4 L1676.2,808.7 L1676.9,810.0 L1677.6,811.3 L1678.4,812.6 L1679.1,813.9 L1679.9,815.2 L1680.6,816.5 L1681.4,817.8 L1682.1,819.1 L1682.9,820.4 L1683.7,821.7 L1684.5,823.0 L1685.3,824.3 L1686.1,825.5 L1686.9,826.8 L1687.7,828.1 L1688.5,829.3 L1689.3,830.6 L1690.2,831.8 L1691.0,833.1 L1691.9,834.3 L1692.7,835.5 L1693.6,836.8 L1694.5,838.0 L1695.4,839.2 L1696.3,840.4 L1697.2,841.6 L1698.1,842.7 L1699.1,843.9 L1700.0,845.1 L1701.0,846.3 L1701.9,847.4 L1702.9,848.6 L1703.9,849.7 L1704.8,850.8 L1705.8,852.0 L1706.8,853.1 L1707.8,854.2 L1708.8,855.3 L1709.9,856.4 L1710.9,857.6 L1711.9,858.7 L1712.9,859.8 L1713.9,860.9 L1715.0,862.0 L1716.0,863.0 L1717.0,864.1 L1718.1,865.2 L1719.1,866.3 L1720.1,867.4 L1721.1,868.5 L1722.2,869.6 L1723.2,870.7 L1724.2,871.8 L1725.3,872.9 L1726.3,874.0 L1727.3,875.1 L1728.4,876.2 L1729.4,877.3 L1730.4,878.4 L1731.5,879.5 L1732.5,880.5 L1733.5,881.6 L1734.5,882.7 L1735.6,883.8 L1736.6,884.9 L1737.6,886.0 L1738.6,887.1 L1739.7,888.2 L1740.7,889.3 L1741.7,890.4 L1742.7,891.6 L1743.7,892.7 L1744.7,893.8 L1745.8,894.9 L1746.8,896.0 L1747.8,897.1 L1748.8,898.2 L1749.8,899.4 L1750.8,900.5 L1751.7,901.6 L1752.7,902.8 L1753.7,903.9 L1754.7,905.0 L1755.7,906.2 L1756.6,907.3 L1757.6,908.5 L1758.5,909.7 L1759.5,910.8 L1760.4,912.0 L1761.4,913.2 L1762.3,914.3 L1763.2,915.5 L1764.2,916.7 L1765.1,917.9 L1766.0,919.1 L1766.9,920.3 L1767.8,921.5 L1768.7,922.7 L1769.6,923.9 L1770.5,925.1 L1771.4,926.3 L1772.3,927.5 L1773.1,928.7 L1774.0,930.0 L1774.9,931.2 L1775.8,932.4 L1776.6,933.6 L1777.5,934.9 L1778.4,936.1 L1779.2,937.3 L1780.1,938.6 L1780.9,939.8 L1781.8,941.0 L1782.6,942.3 L1783.5,943.5 L1784.3,944.8 L1785.2,946.0 L1786.0,947.2 L1786.9,948.5 L1787.7,949.7 L1788.6,951.0 L1789.4,952.2 L1790.3,953.5 L1791.1,954.7 L1792.0,955.9 L1792.8,957.2 L1793.6,958.4 L1794.5,959.7 L1795.3,960.9 L1796.2,962.1 L1797.0,963.4 L1797.9,964.6 L1798.8,965.8 L1799.6,967.1 L1800.5,968.3 L1801.4,969.5 L1802.3,970.7 L1803.1,972.0 L1804.0,973.2 L1804.9,974.4 L1805.8,975.6 L1806.7,976.8 L1807.7,978.0 L1808.6,979.2 L1809.5,980.3 L1810.4,981.5 L1811.4,982.7 L1812.3,983.8 L1813.3,985.0 L1814.3,986.1 L1815.3,987.3 L1816.3,988.4 L1817.3,989.5 L1818.3,990.6 L1819.3,991.7 L1820.3,992.9 L1821.3,993.9 L1822.4,995.0 L1823.4,996.1 L1824.4,997.2 L1825.5,998.3 L1826.6,999.3 L1827.6,1000.4 L1828.7,1001.5 L1829.8,1002.5 L1830.8,1003.6 L1831.9,1004.6 L1833.0,1005.7 L1834.1,1006.7 L1835.2,1007.7 L1836.3,1008.7 L1837.4,1009.8 L1838.5,1010.8 L1839.6,1011.8 L1840.7,1012.8 L1841.8,1013.8 L1842.9,1014.9 L1844.0,1015.9 L1845.1,1016.9 L1846.3,1017.9 L1847.4,1018.8 L1848.5,1019.8 L1849.7,1020.8 L1850.8,1021.8 L1852.0,1022.8 L1853.1,1023.7 L1854.3,1024.7 L1855.4,1025.6 L1856.6,1026.6 L1857.8,1027.5 L1858.9,1028.5 L1860.1,1029.4 L1861.3,1030.3 L1862.5,1031.3 L1863.7,1032.2 L1864.9,1033.1 L1866.1,1034.0 L1867.3,1034.9 L1868.4,1035.8 L1869.6,1036.7 L1870.8,1037.7 L1872.0,1038.6 L1873.2,1039.5 L1874.4,1040.4 L1875.6,1041.3 L1876.8,1042.3 L1878.0,1043.2 L1879.1,1044.1 L1880.3,1045.1 L1881.5,1046.0 L1882.7,1046.9 L1883.8,1047.9 L1885.0,1048.8 L1886.2,1049.8 L1887.3,1050.7 L1888.5,1051.7 L1889.6,1052.6 L1890.8,1053.6 L1892.0,1054.5 L1893.2,1055.5 L1894.4,1056.4 L1895.5,1057.3 L1896.7,1058.2 L1897.9,1059.1 L1899.2,1060.0 L1900.4,1060.9 L1901.6,1061.7 L1902.9,1062.6 L1904.1,1063.4 L1905.4,1064.2 L1906.7,1065.0 L1908.0,1065.7 L1909.3,1066.5 L1910.6,1067.2 L1911.9,1067.9 L1913.2,1068.6 L1914.6,1069.3 L1915.9,1070.0 L1917.3,1070.6 L1918.7,1071.2 L1920.0,1071.8 L1921.4,1072.4 L1922.8,1073.0 L1924.2,1073.5 L1925.6,1074.1 L1927.0,1074.6 L1928.4,1075.1 L1929.9,1075.6 L1931.3,1076.1 L1932.7,1076.5 L1934.1,1077.0 L1935.6,1077.4 L1937.0,1077.8 L1938.5,1078.3 L1939.9,1078.7 L1941.4,1079.1 L1942.8,1079.5 L1944.3,1079.8 L1945.7,1080.2 L1947.2,1080.6 L1948.6,1080.9 L1950.1,1081.3 L1951.6,1081.6 L1953.0,1082.0 L1954.5,1082.3 L1956.0,1082.6 L1957.4,1082.9 L1958.9,1083.3 L1960.4,1083.6 L1961.8,1083.9 L1963.3,1084.2 L1964.8,1084.5 L1966.2,1084.8 L1967.7,1085.1 L1969.2,1085.5 L1970.7,1085.8 L1972.1,1086.1 L1973.6,1086.4 L1975.1,1086.7 L1976.5,1087.0 L1978.0,1087.4 L1979.5,1087.7 L1980.9,1088.0 L1982.4,1088.4 L1983.9,1088.7 L1985.3,1089.0 L1986.8,1089.3 L1988.3,1089.6 L1989.7,1090.0 L1991.2,1090.3 L1992.7,1090.6 L1994.1,1090.9 L1995.6,1091.2 L1997.1,1091.5 L1998.6,1091.7 L2000.1,1092.0 L2001.5,1092.3 L2003.0,1092.5 L2004.5,1092.8 L2006.0,1093.0 L2007.5,1093.2 L2009.0,1093.5 L2010.4,1093.7 L2011.9,1093.9 L2013.4,1094.1 L2014.9,1094.3 L2016.4,1094.4 L2017.9,1094.6 L2019.4,1094.8 L2020.9,1094.9 L2022.4,1095.1 L2023.9,1095.2 L2025.4,1095.3 L2026.9,1095.4 L2028.4,1095.5 L2029.9,1095.6 L2031.4,1095.7 L2032.9,1095.8 L2034.4,1095.9 L2035.9,1095.9 L2037.4,1096.0 L2038.9,1096.0 L2040.4,1096.1 L2041.9,1096.1 L2043.4,1096.1 L2044.9,1096.1 L2046.4,1096.1 L2047.9,1096.1 L2049.4,1096.1" fill="none" stroke="#ff0000" stroke-width="4.17" stroke-linecap="round" stroke-linejoin="round"/>
<path d="M1077,1186.05H1080V1221.25H1077ZM1105,1186.05H1111V1221.25H1105ZM1117,1186.05H1120V1221.25H1117ZM1139,1186.05H1145V1221.25H1139ZM1149,1186.05H1155V1221.25H1149ZM1159,1186.05H1162V1221.25H1159ZM1168,1186.05H1172V1221.25H1168ZM1175,1186.05H1178V1221.25H1175ZM1181,1186.05H1184V1221.25H1181ZM1185,1186.05H1189V1221.25H1185ZM1190,1186.05H1196V1221.25H1190ZM1199,1186.05H1204V1221.25H1199ZM1208,1186.05H1215V1221.25H1208ZM1218,1186.05H1266V1221.25H1218ZM1267,1186.05H1272V1221.25H1267ZM1273,1186.05H1752V1221.25H1273ZM1753,1186.05H1780V1221.25H1753ZM1781,1186.05H1806V1221.25H1781ZM1807,1186.05H1846V1221.25H1807ZM1848,1186.05H1851V1221.25H1848ZM1854,1186.05H1857V1221.25H1854ZM1860,1186.05H1876V1221.25H1860ZM1877,1186.05H1886V1221.25H1877ZM1891,1186.05H1894V1221.25H1891ZM1899,1186.05H1903V1221.25H1899ZM1913,1186.05H1916V1221.25H1913ZM1921,1186.05H1924V1221.25H1921ZM1932,1186.05H1935V1221.25H1932ZM1937,1186.05H1940V1221.25H1937ZM1942,1186.05H1945V1221.25H1942ZM1950,1186.05H1953V1221.25H1950ZM1965,1186.05H1971V1221.25H1965ZM1972,1186.05H1975V1221.25H1972ZM1992,1186.05H1995V1221.25H1992ZM2008,1186.05H2011V1221.25H2008ZM2049,1186.05H2052V1221.25H2049Z" fill="#ff0000"/>
<path d="M321.0,1075.1 L322.5,1075.2 L324.0,1075.3 L325.5,1075.5 L327.0,1075.7 L328.5,1075.9 L330.0,1076.1 L331.4,1076.3 L332.9,1076.5 L334.4,1076.8 L335.9,1077.0 L337.4,1077.3 L338.8,1077.6 L340.3,1077.8 L341.8,1078.0 L343.3,1078.2 L344.8,1078.3 L346.3,1078.3 L347.8,1078.2 L349.3,1078.0 L350.8,1077.7 L352.2,1077.3 L353.6,1076.8 L355.0,1076.1 L356.3,1075.4 L357.5,1074.6 L358.7,1073.7 L359.9,1072.7 L361.0,1071.7 L362.1,1070.7 L363.1,1069.6 L364.2,1068.5 L365.2,1067.4 L366.1,1066.2 L367.1,1065.1 L368.0,1063.9 L368.9,1062.7 L369.8,1061.5 L370.7,1060.3 L371.6,1059.1 L372.5,1057.9 L373.4,1056.7 L374.2,1055.4 L375.1,1054.2 L375.9,1053.0 L376.8,1051.7 L377.6,1050.5 L378.4,1049.2 L379.3,1048.0 L380.1,1046.7 L380.9,1045.4 L381.6,1044.1 L382.4,1042.9 L383.2,1041.6 L384.0,1040.3 L384.7,1039.0 L385.4,1037.7 L386.2,1036.4 L386.9,1035.0 L387.6,1033.7 L388.3,1032.4 L389.0,1031.1 L389.7,1029.7 L390.4,1028.4 L391.0,1027.0 L391.7,1025.7 L392.3,1024.3 L392.9,1023.0 L393.6,1021.6 L394.2,1020.2 L394.8,1018.8 L395.4,1017.5 L395.9,1016.1 L396.5,1014.7 L397.1,1013.3 L397.6,1011.9 L398.2,1010.5 L398.7,1009.1 L399.2,1007.7 L399.8,1006.3 L400.3,1004.9 L400.8,1003.4 L401.3,1002.0 L401.8,1000.6 L402.2,999.2 L402.7,997.8 L403.2,996.3 L403.7,994.9 L404.1,993.5 L404.6,992.1 L405.0,990.6 L405.5,989.2 L405.9,987.8 L406.3,986.3 L406.8,984.9 L407.2,983.4 L407.6,982.0 L408.0,980.6 L408.4,979.1 L408.8,977.7 L409.2,976.2 L409.6,974.8 L410.0,973.3 L410.4,971.9 L410.8,970.4 L411.2,969.0 L411.6,967.5 L412.0,966.1 L412.3,964.6 L412.7,963.2 L413.1,961.7 L413.4,960.2 L413.8,958.8 L414.1,957.3 L414.5,955.9 L414.9,954.4 L415.2,952.9 L415.5,951.5 L415.9,950.0 L416.2,948.6 L416.6,947.1 L416.9,945.6 L417.2,944.2 L417.6,942.7 L417.9,941.2 L418.2,939.8 L418.6,938.3 L418.9,936.8 L419.2,935.4 L419.5,933.9 L419.8,932.4 L420.2,931.0 L420.5,929.5 L420.8,928.0 L421.1,926.6 L421.4,925.1 L421.7,923.6 L422.0,922.2 L422.3,920.7 L422.6,919.2 L422.9,917.7 L423.2,916.3 L423.5,914.8 L423.8,913.3 L424.1,911.9 L424.4,910.4 L424.7,908.9 L425.0,907.4 L425.3,906.0 L425.6,904.5 L425.9,903.0 L426.1,901.5 L426.4,900.1 L426.7,898.6 L427.0,897.1 L427.3,895.6 L427.6,894.2 L427.8,892.7 L428.1,891.2 L428.4,889.7 L428.7,888.3 L429.0,886.8 L429.2,885.3 L429.5,883.8 L429.8,882.4 L430.0,880.9 L430.3,879.4 L430.6,877.9 L430.9,876.5 L431.1,875.0 L431.4,873.5 L431.7,872.0 L431.9,870.6 L432.2,869.1 L432.5,867.6 L432.7,866.1 L433.0,864.6 L433.3,863.2 L433.5,861.7 L433.8,860.2 L434.0,858.7 L434.3,857.2 L434.6,855.8 L434.8,854.3 L435.1,852.8 L435.3,851.3 L435.6,849.9 L435.9,848.4 L436.1,846.9 L436.4,845.4 L436.6,843.9 L436.9,842.5 L437.1,841.0 L437.4,839.5 L437.7,838.0 L437.9,836.5 L438.2,835.1 L438.4,833.6 L438.7,832.1 L438.9,830.6 L439.2,829.1 L439.4,827.7 L439.7,826.2 L439.9,824.7 L440.2,823.2 L440.4,821.7 L440.7,820.3 L440.9,818.8 L441.2,817.3 L441.4,815.8 L441.7,814.3 L441.9,812.9 L442.2,811.4 L442.4,809.9 L442.7,808.4 L442.9,806.9 L443.2,805.4 L443.4,804.0 L443.7,802.5 L443.9,801.0 L444.1,799.5 L444.4,798.0 L444.6,796.6 L444.9,795.1 L445.1,793.6 L445.4,792.1 L445.6,790.6 L445.9,789.2 L446.1,787.7 L446.4,786.2 L446.6,784.7 L446.9,783.2 L447.1,781.7 L447.3,780.3 L447.6,778.8 L447.8,777.3 L448.1,775.8 L448.3,774.3 L448.6,772.9 L448.8,771.4 L449.1,769.9 L449.3,768.4 L449.6,766.9 L449.8,765.5 L450.1,764.0 L450.3,762.5 L450.6,761.0 L450.8,759.5 L451.0,758.1 L451.3,756.6 L451.5,755.1 L451.8,753.6 L452.0,752.1 L452.3,750.6 L452.5,749.2 L452.8,747.7 L453.0,746.2 L453.3,744.7 L453.5,743.2 L453.8,741.8 L454.0,740.3 L454.3,738.8 L454.5,737.3 L454.8,735.8 L455.1,734.4 L455.3,732.9 L455.6,731.4 L455.8,729.9 L456.1,728.4 L456.3,727.0 L456.6,725.5 L456.8,724.0 L457.1,722.5 L457.4,721.0 L457.6,719.6 L457.9,718.1 L458.1,716.6 L458.4,715.1 L458.7,713.7 L458.9,712.2 L459.2,710.7 L459.4,709.2 L459.7,707.7 L460.0,706.3 L460.2,704.8 L460.5,703.3 L460.7,701.8 L461.0,700.3 L461.3,698.9 L461.5,697.4 L461.8,695.9 L462.1,694.4 L462.3,693.0 L462.6,691.5 L462.9,690.0 L463.1,688.5 L463.4,687.0 L463.7,685.6 L463.9,684.1 L464.2,682.6 L464.5,681.1 L464.7,679.7 L465.0,678.2 L465.3,676.7 L465.5,675.2 L465.8,673.8 L466.1,672.3 L466.3,670.8 L466.6,669.3 L466.9,667.8 L467.2,666.4 L467.4,664.9 L467.7,663.4 L468.0,661.9 L468.2,660.5 L468.5,659.0 L468.8,657.5 L469.0,656.0 L469.3,654.5 L469.6,653.1 L469.8,651.6 L470.1,650.1 L470.4,648.6 L470.6,647.2 L470.9,645.7 L471.2,644.2 L471.4,642.7 L471.7,641.2 L472.0,639.8 L472.2,638.3 L472.5,636.8 L472.8,635.3 L473.0,633.9 L473.3,632.4 L473.5,630.9 L473.8,629.4 L474.1,627.9 L474.3,626.5 L474.6,625.0 L474.8,623.5 L475.1,622.0 L475.4,620.5 L475.6,619.1 L475.9,617.6 L476.1,616.1 L476.4,614.6 L476.6,613.1 L476.9,611.7 L477.1,610.2 L477.4,608.7 L477.6,607.2 L477.9,605.7 L478.1,604.3 L478.4,602.8 L478.6,601.3 L478.9,599.8 L479.1,598.3 L479.4,596.9 L479.6,595.4 L479.9,593.9 L480.1,592.4 L480.3,590.9 L480.6,589.5 L480.8,588.0 L481.0,586.5 L481.3,585.0 L481.5,583.5 L481.7,582.0 L482.0,580.6 L482.2,579.1 L482.4,577.6 L482.7,576.1 L482.9,574.6 L483.1,573.1 L483.3,571.6 L483.6,570.2 L483.8,568.7 L484.0,567.2 L484.2,565.7 L484.5,564.2 L484.7,562.7 L484.9,561.3 L485.1,559.8 L485.3,558.3 L485.5,556.8 L485.7,555.3 L486.0,553.8 L486.2,552.3 L486.4,550.8 L486.6,549.4 L486.8,547.9 L487.0,546.4 L487.2,544.9 L487.4,543.4 L487.6,541.9 L487.8,540.4 L488.0,538.9 L488.2,537.5 L488.4,536.0 L488.6,534.5 L488.8,533.0 L489.0,531.5 L489.2,530.0 L489.4,528.5 L489.6,527.0 L489.8,525.5 L490.0,524.1 L490.2,522.6 L490.4,521.1 L490.6,519.6 L490.7,518.1 L490.9,516.6 L491.1,515.1 L491.3,513.6 L491.5,512.1 L491.7,510.7 L491.9,509.2 L492.1,507.7 L492.2,506.2 L492.4,504.7 L492.6,503.2 L492.8,501.7 L493.0,500.2 L493.2,498.7 L493.4,497.2 L493.5,495.8 L493.7,494.3 L493.9,492.8 L494.1,491.3 L494.3,489.8 L494.4,488.3 L494.6,486.8 L494.8,485.3 L495.0,483.8 L495.2,482.3 L495.3,480.8 L495.5,479.4 L495.7,477.9 L495.9,476.4 L496.0,474.9 L496.2,473.4 L496.4,471.9 L496.6,470.4 L496.7,468.9 L496.9,467.4 L497.1,465.9 L497.3,464.4 L497.4,463.0 L497.6,461.5 L497.8,460.0 L498.0,458.5 L498.1,457.0 L498.3,455.5 L498.5,454.0 L498.7,452.5 L498.8,451.0 L499.0,449.5 L499.2,448.0 L499.3,446.5 L499.5,445.1 L499.7,443.6 L499.9,442.1 L500.0,440.6 L500.2,439.1 L500.4,437.6 L500.5,436.1 L500.7,434.6 L500.9,433.1 L501.0,431.6 L501.2,430.1 L501.4,428.6 L501.6,427.2 L501.7,425.7 L501.9,424.2 L502.1,422.7 L502.2,421.2 L502.4,419.7 L502.6,418.2 L502.7,416.7 L502.9,415.2 L503.1,413.7 L503.3,412.2 L503.4,410.7 L503.6,409.3 L503.8,407.8 L503.9,406.3 L504.1,404.8 L504.3,403.3 L504.4,401.8 L504.6,400.3 L504.8,398.8 L505.0,397.3 L505.1,395.8 L505.3,394.3 L505.5,392.8 L505.6,391.3 L505.8,389.9 L506.0,388.4 L506.1,386.9 L506.3,385.4 L506.5,383.9 L506.7,382.4 L506.8,380.9 L507.0,379.4 L507.2,377.9 L507.3,376.4 L507.5,374.9 L507.7,373.4 L507.9,372.0 L508.0,370.5 L508.2,369.0 L508.4,367.5 L508.6,366.0 L508.7,364.5 L508.9,363.0 L509.1,361.5 L509.3,360.0 L509.4,358.5 L509.6,357.0 L509.8,355.6 L510.0,354.1 L510.2,352.6 L510.3,351.1 L510.5,349.6 L510.7,348.1 L510.9,346.6 L511.0,345.1 L511.2,343.6 L511.4,342.1 L511.6,340.6 L511.8,339.2 L512.0,337.7 L512.1,336.2 L512.3,334.7 L512.5,333.2 L512.7,331.7 L512.9,330.2 L513.1,328.7 L513.3,327.2 L513.5,325.7 L513.6,324.3 L513.8,322.8 L514.0,321.3 L514.2,319.8 L514.4,318.3 L514.6,316.8 L514.8,315.3 L515.0,313.8 L515.2,312.4 L515.4,310.9 L515.6,309.4 L515.8,307.9 L516.0,306.4 L516.2,304.9 L516.4,303.4 L516.6,301.9 L516.8,300.5 L517.1,299.0 L517.3,297.5 L517.5,296.0 L517.7,294.5 L517.9,293.0 L518.1,291.5 L518.4,290.0 L518.6,288.6 L518.8,287.1 L519.0,285.6 L519.3,284.1 L519.5,282.6 L519.7,281.1 L519.9,279.7 L520.2,278.2 L520.4,276.7 L520.7,275.2 L520.9,273.7 L521.1,272.2 L521.4,270.8 L521.6,269.3 L521.9,267.8 L522.1,266.3 L522.4,264.8 L522.6,263.4 L522.9,261.9 L523.1,260.4 L523.4,258.9 L523.7,257.4 L523.9,256.0 L524.2,254.5 L524.5,253.0 L524.7,251.5 L525.0,250.1 L525.3,248.6 L525.6,247.1 L525.9,245.6 L526.1,244.2 L526.4,242.7 L526.7,241.2 L527.0,239.7 L527.3,238.3 L527.6,236.8 L527.9,235.3 L528.2,233.9 L528.6,232.4 L528.9,230.9 L529.2,229.5 L529.5,228.0 L529.8,226.5 L530.2,225.1 L530.5,223.6 L530.8,222.1 L531.2,220.7 L531.5,219.2 L531.9,217.8 L532.2,216.3 L532.6,214.8 L533.0,213.4 L533.3,211.9 L533.7,210.5 L534.1,209.0 L534.4,207.6 L534.8,206.1 L535.2,204.7 L535.6,203.2 L536.0,201.8 L536.4,200.3 L536.8,198.9 L537.2,197.4 L537.6,196.0 L538.1,194.5 L538.5,193.1 L538.9,191.7 L539.3,190.2 L539.8,188.8 L540.2,187.4 L540.7,185.9 L541.1,184.5 L541.6,183.1 L542.0,181.6 L542.5,180.2 L543.0,178.8 L543.5,177.4 L543.9,175.9 L544.4,174.5 L544.9,173.1 L545.4,171.7 L545.9,170.3 L546.5,168.9 L547.0,167.4 L547.5,166.0 L548.0,164.6 L548.6,163.2 L549.1,161.8 L549.7,160.4 L550.2,159.0 L550.8,157.6 L551.3,156.3 L551.9,154.9 L552.5,153.5 L553.1,152.1 L553.7,150.7 L554.3,149.3 L554.9,148.0 L555.5,146.6 L556.1,145.2 L556.8,143.9 L557.4,142.5 L558.1,141.2 L558.8,139.9 L559.5,138.6 L560.3,137.3 L561.1,136.0 L561.9,134.7 L562.8,133.5 L563.7,132.3 L564.7,131.2 L565.9,130.2 L567.1,129.4 L568.5,128.8 L569.9,128.5 L571.4,128.6 L572.8,129.1 L574.1,129.9 L575.3,130.8 L576.4,131.9 L577.3,133.0 L578.2,134.2 L579.1,135.5 L579.8,136.7 L580.6,138.0 L581.3,139.4 L581.9,140.7 L582.6,142.1 L583.2,143.5 L583.8,144.8 L584.3,146.2 L584.9,147.6 L585.4,149.0 L585.9,150.4 L586.4,151.9 L586.9,153.3 L587.4,154.7 L587.8,156.1 L588.3,157.6 L588.7,159.0 L589.1,160.4 L589.6,161.9 L590.0,163.3 L590.4,164.8 L590.8,166.2 L591.2,167.7 L591.6,169.1 L592.0,170.6 L592.3,172.0 L592.7,173.5 L593.1,174.9 L593.5,176.4 L593.8,177.8 L594.2,179.3 L594.5,180.8 L594.9,182.2 L595.3,183.7 L595.6,185.1 L595.9,186.6 L596.3,188.1 L596.6,189.5 L597.0,191.0 L597.3,192.4 L597.7,193.9 L598.0,195.4 L598.3,196.8 L598.7,198.3 L599.0,199.8 L599.3,201.2 L599.6,202.7 L600.0,204.2 L600.3,205.6 L600.6,207.1 L601.0,208.6 L601.3,210.0 L601.6,211.5 L601.9,213.0 L602.3,214.4 L602.6,215.9 L602.9,217.4 L603.2,218.8 L603.5,220.3 L603.9,221.8 L604.2,223.2 L604.5,224.7 L604.8,226.2 L605.2,227.6 L605.5,229.1 L605.8,230.6 L606.1,232.0 L606.4,233.5 L606.8,235.0 L607.1,236.4 L607.4,237.9 L607.7,239.4 L608.0,240.8 L608.3,242.3 L608.6,243.8 L609.0,245.2 L609.3,246.7 L609.6,248.2 L609.9,249.6 L610.2,251.1 L610.5,252.6 L610.8,254.0 L611.1,255.5 L611.4,257.0 L611.7,258.5 L612.0,259.9 L612.3,261.4 L612.6,262.9 L612.9,264.3 L613.2,265.8 L613.5,267.3 L613.8,268.8 L614.1,270.2 L614.4,271.7 L614.7,273.2 L614.9,274.7 L615.2,276.1 L615.5,277.6 L615.8,279.1 L616.1,280.6 L616.3,282.0 L616.6,283.5 L616.9,285.0 L617.2,286.5 L617.5,287.9 L617.7,289.4 L618.0,290.9 L618.3,292.4 L618.5,293.8 L618.8,295.3 L619.1,296.8 L619.3,298.3 L619.6,299.8 L619.9,301.2 L620.1,302.7 L620.4,304.2 L620.6,305.7 L620.9,307.1 L621.1,308.6 L621.4,310.1 L621.7,311.6 L621.9,313.1 L622.2,314.6 L622.4,316.0 L622.6,317.5 L622.9,319.0 L623.1,320.5 L623.4,322.0 L623.6,323.4 L623.9,324.9 L624.1,326.4 L624.3,327.9 L624.6,329.4 L624.8,330.9 L625.0,332.3 L625.3,333.8 L625.5,335.3 L625.7,336.8 L626.0,338.3 L626.2,339.8 L626.4,341.2 L626.7,342.7 L626.9,344.2 L627.1,345.7 L627.3,347.2 L627.6,348.7 L627.8,350.1 L628.0,351.6 L628.2,353.1 L628.4,354.6 L628.7,356.1 L628.9,357.6 L629.1,359.1 L629.3,360.5 L629.5,362.0 L629.8,363.5 L630.0,365.0 L630.2,366.5 L630.4,368.0 L630.6,369.5 L630.8,370.9 L631.0,372.4 L631.3,373.9 L631.5,375.4 L631.7,376.9 L631.9,378.4 L632.1,379.9 L632.3,381.3 L632.5,382.8 L632.7,384.3 L632.9,385.8 L633.1,387.3 L633.3,388.8 L633.5,390.3 L633.8,391.8 L634.0,393.2 L634.2,394.7 L634.4,396.2 L634.6,397.7 L634.8,399.2 L635.0,400.7 L635.2,402.2 L635.4,403.7 L635.6,405.1 L635.8,406.6 L636.0,408.1 L636.2,409.6 L636.4,411.1 L636.6,412.6 L636.8,414.1 L637.0,415.6 L637.2,417.1 L637.4,418.5 L637.6,420.0 L637.8,421.5 L638.0,423.0 L638.2,424.5 L638.4,426.0 L638.6,427.5 L638.8,429.0 L639.0,430.4 L639.2,431.9 L639.4,433.4 L639.6,434.9 L639.8,436.4 L640.0,437.9 L640.2,439.4 L640.4,440.9 L640.6,442.4 L640.8,443.8 L641.0,445.3 L641.2,446.8 L641.3,448.3 L641.5,449.8 L641.7,451.3 L641.9,452.8 L642.1,454.3 L642.3,455.8 L642.5,457.2 L642.7,458.7 L642.9,460.2 L643.1,461.7 L643.3,463.2 L643.5,464.7 L643.7,466.2 L643.9,467.7 L644.1,469.1 L644.3,470.6 L644.5,472.1 L644.7,473.6 L644.9,475.1 L645.1,476.6 L645.3,478.1 L645.4,479.6 L645.6,481.1 L645.8,482.5 L646.0,484.0 L646.2,485.5 L646.4,487.0 L646.6,488.5 L646.8,490.0 L647.0,491.5 L647.2,493.0 L647.4,494.5 L647.6,495.9 L647.8,497.4 L648.0,498.9 L648.2,500.4 L648.4,501.9 L648.6,503.4 L648.8,504.9 L649.0,506.4 L649.2,507.9 L649.4,509.3 L649.5,510.8 L649.7,512.3 L649.9,513.8 L650.1,515.3 L650.3,516.8 L650.5,518.3 L650.7,519.8 L650.9,521.3 L651.1,522.7 L651.3,524.2 L651.5,525.7 L651.7,527.2 L651.9,528.7 L652.1,530.2 L652.3,531.7 L652.5,533.2 L652.7,534.7 L652.9,536.1 L653.1,537.6 L653.3,539.1 L653.5,540.6 L653.7,542.1 L653.9,543.6 L654.1,545.1 L654.3,546.6 L654.5,548.0 L654.7,549.5 L654.9,551.0 L655.1,552.5 L655.3,554.0 L655.5,555.5 L655.7,557.0 L655.9,558.5 L656.1,559.9 L656.3,561.4 L656.5,562.9 L656.7,564.4 L656.9,565.9 L657.1,567.4 L657.3,568.9 L657.5,570.4 L657.7,571.9 L657.9,573.3 L658.1,574.8 L658.3,576.3 L658.5,577.8 L658.7,579.3 L658.9,580.8 L659.1,582.3 L659.3,583.8 L659.6,585.2 L659.8,586.7 L660.0,588.2 L660.2,589.7 L660.4,591.2 L660.6,592.7 L660.8,594.2 L661.0,595.6 L661.2,597.1 L661.4,598.6 L661.6,600.1 L661.8,601.6 L662.1,603.1 L662.3,604.6 L662.5,606.1 L662.7,607.5 L662.9,609.0 L663.1,610.5 L663.3,612.0 L663.5,613.5 L663.8,615.0 L664.0,616.5 L664.2,617.9 L664.4,619.4 L664.6,620.9 L664.8,622.4 L665.0,623.9 L665.3,625.4 L665.5,626.9 L665.7,628.3 L665.9,629.8 L666.1,631.3 L666.4,632.8 L666.6,634.3 L666.8,635.8 L667.0,637.3 L667.2,638.7 L667.5,640.2 L667.7,641.7 L667.9,643.2 L668.1,644.7 L668.4,646.2 L668.6,647.7 L668.8,649.1 L669.0,650.6 L669.3,652.1 L669.5,653.6 L669.7,655.1 L669.9,656.6 L670.2,658.0 L670.4,659.5 L670.6,661.0 L670.9,662.5 L671.1,664.0 L671.3,665.5 L671.6,666.9 L671.8,668.4 L672.0,669.9 L672.3,671.4 L672.5,672.9 L672.7,674.4 L673.0,675.8 L673.2,677.3 L673.5,678.8 L673.7,680.3 L673.9,681.8 L674.2,683.3 L674.4,684.7 L674.7,686.2 L674.9,687.7 L675.1,689.2 L675.4,690.7 L675.6,692.1 L675.9,693.6 L676.1,695.1 L676.4,696.6 L676.6,698.1 L676.9,699.5 L677.1,701.0 L677.4,702.5 L677.6,704.0 L677.9,705.5 L678.1,706.9 L678.4,708.4 L678.7,709.9 L678.9,711.4 L679.2,712.9 L679.4,714.3 L679.7,715.8 L680.0,717.3 L680.2,718.8 L680.5,720.3 L680.8,721.7 L681.0,723.2 L681.3,724.7 L681.6,726.2 L681.8,727.6 L682.1,729.1 L682.4,730.6 L682.6,732.1 L682.9,733.5 L683.2,735.0 L683.5,736.5 L683.7,738.0 L684.0,739.4 L684.3,740.9 L684.6,742.4 L684.9,743.9 L685.2,745.3 L685.4,746.8 L685.7,748.3 L686.0,749.8 L686.3,751.2 L686.6,752.7 L686.9,754.2 L687.2,755.7 L687.5,757.1 L687.8,758.6 L688.1,760.1 L688.4,761.5 L688.7,763.0 L689.0,764.5 L689.3,766.0 L689.6,767.4 L689.9,768.9 L690.2,770.4 L690.5,771.8 L690.9,773.3 L691.2,774.8 L691.5,776.2 L691.8,777.7 L692.1,779.2 L692.5,780.6 L692.8,782.1 L693.1,783.6 L693.4,785.0 L693.8,786.5 L694.1,788.0 L694.4,789.4 L694.8,790.9 L695.1,792.3 L695.5,793.8 L695.8,795.3 L696.1,796.7 L696.5,798.2 L696.8,799.7 L697.2,801.1 L697.5,802.6 L697.9,804.0 L698.2,805.5 L698.6,807.0 L698.9,808.4 L699.3,809.9 L699.6,811.3 L700.0,812.8 L700.3,814.3 L700.7,815.7 L701.1,817.2 L701.4,818.6 L701.8,820.1 L702.2,821.5 L702.5,823.0 L702.9,824.5 L703.3,825.9 L703.6,827.4 L704.0,828.8 L704.4,830.3 L704.7,831.7 L705.1,833.2 L705.5,834.6 L705.9,836.1 L706.2,837.5 L706.6,839.0 L707.0,840.5 L707.4,841.9 L707.8,843.4 L708.1,844.8 L708.5,846.3 L708.9,847.7 L709.3,849.2 L709.7,850.6 L710.0,852.1 L710.4,853.5 L710.8,855.0 L711.2,856.4 L711.6,857.9 L712.0,859.3 L712.4,860.8 L712.7,862.2 L713.1,863.7 L713.5,865.1 L713.9,866.6 L714.3,868.0 L714.7,869.5 L715.1,870.9 L715.5,872.4 L715.9,873.8 L716.2,875.3 L716.6,876.7 L717.0,878.2 L717.4,879.6 L717.8,881.1 L718.2,882.5 L718.6,884.0 L719.0,885.4 L719.4,886.9 L719.8,888.3 L720.2,889.8 L720.6,891.2 L721.0,892.7 L721.3,894.1 L721.7,895.6 L722.1,897.0 L722.5,898.5 L722.9,899.9 L723.3,901.4 L723.7,902.8 L724.1,904.3 L724.5,905.7 L724.9,907.2 L725.3,908.6 L725.7,910.1 L726.1,911.5 L726.5,913.0 L726.9,914.4 L727.3,915.8 L727.7,917.3 L728.1,918.7 L728.5,920.2 L728.9,921.6 L729.3,923.1 L729.7,924.5 L730.1,926.0 L730.5,927.4 L730.9,928.9 L731.3,930.3 L731.7,931.8 L732.1,933.2 L732.5,934.7 L732.9,936.1 L733.3,937.5 L733.7,939.0 L734.2,940.4 L734.6,941.9 L735.0,943.3 L735.4,944.8 L735.8,946.2 L736.3,947.6 L736.7,949.1 L737.1,950.5 L737.5,952.0 L738.0,953.4 L738.4,954.8 L738.8,956.3 L739.3,957.7 L739.7,959.1 L740.2,960.6 L740.6,962.0 L741.1,963.4 L741.5,964.9 L742.0,966.3 L742.4,967.7 L742.9,969.2 L743.3,970.6 L743.8,972.0 L744.3,973.4 L744.8,974.9 L745.2,976.3 L745.7,977.7 L746.2,979.1 L746.7,980.6 L747.2,982.0 L747.7,983.4 L748.2,984.8 L748.7,986.2 L749.2,987.6 L749.7,989.0 L750.2,990.4 L750.8,991.9 L751.3,993.3 L751.8,994.7 L752.4,996.1 L752.9,997.5 L753.5,998.9 L754.0,1000.3 L754.6,1001.6 L755.1,1003.0 L755.7,1004.4 L756.3,1005.8 L756.9,1007.2 L757.5,1008.6 L758.1,1009.9 L758.7,1011.3 L759.3,1012.7 L760.0,1014.0 L760.6,1015.4 L761.2,1016.8 L761.9,1018.1 L762.5,1019.5 L763.2,1020.8 L763.9,1022.1 L764.6,1023.5 L765.3,1024.8 L766.0,1026.1 L766.7,1027.5 L767.4,1028.8 L768.2,1030.1 L768.9,1031.4 L769.7,1032.7 L770.4,1034.0 L771.2,1035.2 L772.0,1036.5 L772.8,1037.8 L773.7,1039.0 L774.5,1040.3 L775.4,1041.5 L776.2,1042.7 L777.1,1044.0 L778.0,1045.2 L778.9,1046.4 L779.8,1047.5 L780.8,1048.7 L781.7,1049.9 L782.7,1051.0 L783.7,1052.1 L784.7,1053.2 L785.7,1054.3 L786.8,1055.4 L787.9,1056.4 L789.0,1057.4 L790.2,1058.4 L791.4,1059.3 L792.6,1060.2 L793.8,1061.0 L795.1,1061.8 L796.4,1062.5 L797.8,1063.1 L799.2,1063.7 L800.6,1064.1 L802.1,1064.5 L803.5,1064.9 L805.0,1065.1 L806.5,1065.3 L808.0,1065.5 L809.5,1065.6 L811.0,1065.7 L812.5,1065.8 L814.0,1065.9 L815.5,1065.9 L817.0,1066.0 L818.5,1066.0 L820.0,1066.0 L821.5,1065.9 L823.0,1065.9" fill="none" stroke="#0000ff" stroke-width="4.17" stroke-linecap="round" stroke-linejoin="round"/>
<path d="M319,1280.05H324V1315.25H319ZM325,1280.05H328V1315.25H325ZM334,1280.05H337V1315.25H334ZM339,1280.05H345V1315.25H339ZM360,1280.05H365V1315.25H360ZM374,1280.05H377V1315.25H374ZM379,1280.05H385V1315.25H379ZM389,1280.05H409V1315.25H389ZM410,1280.05H419V1315.25H410ZM420,1280.05H741V1315.25H420ZM743,1280.05H761V1315.25H743ZM763,1280.05H771V1315.25H763ZM772,1280.05H775V1315.25H772ZM777,1280.05H780V1315.25H777ZM781,1280.05H789V1315.25H781ZM796,1280.05H799V1315.25H796ZM801,1280.05H809V1315.25H801ZM815,1280.05H819V1315.25H815ZM822,1280.05H825V1315.25H822Z" fill="#0000ff"/>
<path d="M1073.8,1091.7 L1075.3,1091.7 L1076.8,1091.7 L1078.3,1091.6 L1079.8,1091.6 L1081.3,1091.5 L1082.8,1091.4 L1084.3,1091.3 L1085.8,1091.2 L1087.3,1091.1 L1088.8,1090.9 L1090.3,1090.8 L1091.8,1090.6 L1093.3,1090.5 L1094.8,1090.3 L1096.3,1090.1 L1097.7,1089.9 L1099.2,1089.6 L1100.7,1089.4 L1102.2,1089.2 L1103.7,1088.9 L1105.1,1088.6 L1106.6,1088.4 L1108.1,1088.1 L1109.6,1087.8 L1111.0,1087.5 L1112.5,1087.1 L1114.0,1086.8 L1115.4,1086.5 L1116.9,1086.1 L1118.3,1085.7 L1119.8,1085.3 L1121.2,1085.0 L1122.7,1084.6 L1124.1,1084.1 L1125.6,1083.7 L1127.0,1083.3 L1128.4,1082.8 L1129.9,1082.4 L1131.3,1081.9 L1132.7,1081.4 L1134.1,1080.9 L1135.6,1080.4 L1137.0,1079.9 L1138.4,1079.4 L1139.8,1078.8 L1141.2,1078.3 L1142.6,1077.7 L1144.0,1077.1 L1145.3,1076.6 L1146.7,1076.0 L1148.1,1075.4 L1149.5,1074.8 L1150.8,1074.2 L1152.2,1073.5 L1153.6,1072.9 L1154.9,1072.2 L1156.3,1071.6 L1157.6,1070.9 L1159.0,1070.3 L1160.3,1069.6 L1161.6,1068.9 L1163.0,1068.2 L1164.3,1067.5 L1165.6,1066.8 L1166.9,1066.0 L1168.2,1065.3 L1169.5,1064.6 L1170.8,1063.8 L1172.1,1063.1 L1173.4,1062.3 L1174.7,1061.5 L1176.0,1060.7 L1177.3,1060.0 L1178.6,1059.2 L1179.8,1058.4 L1181.1,1057.6 L1182.4,1056.8 L1183.6,1055.9 L1184.9,1055.1 L1186.1,1054.3 L1187.4,1053.5 L1188.6,1052.6 L1189.9,1051.8 L1191.1,1050.9 L1192.3,1050.0 L1193.5,1049.2 L1194.8,1048.3 L1196.0,1047.4 L1197.2,1046.5 L1198.4,1045.6 L1199.6,1044.7 L1200.8,1043.8 L1202.0,1042.8 L1203.1,1041.9 L1204.3,1041.0 L1205.5,1040.0 L1206.6,1039.1 L1207.8,1038.1 L1208.9,1037.1 L1210.1,1036.2 L1211.2,1035.2 L1212.3,1034.2 L1213.5,1033.2 L1214.6,1032.2 L1215.7,1031.2 L1216.8,1030.2 L1217.9,1029.2 L1219.0,1028.2 L1220.1,1027.1 L1221.2,1026.1 L1222.3,1025.1 L1223.4,1024.0 L1224.5,1023.0 L1225.5,1021.9 L1226.6,1020.9 L1227.7,1019.8 L1228.7,1018.8 L1229.8,1017.7 L1230.9,1016.6 L1231.9,1015.6 L1233.0,1014.5 L1234.0,1013.4 L1235.1,1012.3 L1236.1,1011.3 L1237.2,1010.2 L1238.2,1009.1 L1239.2,1008.0 L1240.3,1006.9 L1241.3,1005.8 L1242.3,1004.8 L1243.4,1003.7 L1244.4,1002.6 L1245.4,1001.5 L1246.5,1000.4 L1247.5,999.3 L1248.5,998.2 L1249.5,997.1 L1250.6,996.0 L1251.6,994.9 L1252.6,993.8 L1253.6,992.6 L1254.6,991.5 L1255.6,990.4 L1256.6,989.3 L1257.6,988.1 L1258.5,987.0 L1259.5,985.9 L1260.5,984.7 L1261.4,983.6 L1262.4,982.4 L1263.3,981.2 L1264.3,980.1 L1265.2,978.9 L1266.1,977.7 L1267.1,976.5 L1268.0,975.3 L1268.9,974.1 L1269.8,972.9 L1270.6,971.7 L1271.5,970.5 L1272.4,969.2 L1273.2,968.0 L1274.1,966.8 L1274.9,965.5 L1275.7,964.3 L1276.6,963.0 L1277.4,961.7 L1278.2,960.5 L1279.0,959.2 L1279.8,957.9 L1280.6,956.6 L1281.3,955.4 L1282.1,954.1 L1282.9,952.8 L1283.6,951.5 L1284.4,950.2 L1285.2,948.9 L1285.9,947.6 L1286.6,946.3 L1287.4,945.0 L1288.1,943.7 L1288.9,942.4 L1289.6,941.0 L1290.3,939.7 L1291.0,938.4 L1291.8,937.1 L1292.5,935.8 L1293.2,934.5 L1293.9,933.1 L1294.6,931.8 L1295.3,930.5 L1296.0,929.2 L1296.8,927.9 L1297.5,926.5 L1298.2,925.2 L1298.9,923.9 L1299.6,922.6 L1300.3,921.2 L1301.0,919.9 L1301.7,918.6 L1302.5,917.3 L1303.2,916.0 L1303.9,914.6 L1304.6,913.3 L1305.3,912.0 L1306.1,910.7 L1306.8,909.4 L1307.5,908.1 L1308.3,906.8 L1309.0,905.5 L1309.8,904.2 L1310.5,902.9 L1311.3,901.6 L1312.1,900.3 L1312.8,899.0 L1313.6,897.7 L1314.4,896.4 L1315.2,895.1 L1315.9,893.9 L1316.7,892.6 L1317.5,891.3 L1318.3,890.0 L1319.1,888.8 L1320.0,887.5 L1320.8,886.2 L1321.6,885.0 L1322.4,883.7 L1323.3,882.5 L1324.1,881.2 L1324.9,880.0 L1325.8,878.8 L1326.6,877.5 L1327.5,876.3 L1328.4,875.1 L1329.2,873.8 L1330.1,872.6 L1331.0,871.4 L1331.8,870.2 L1332.7,869.0 L1333.6,867.7 L1334.5,866.5 L1335.4,865.3 L1336.3,864.1 L1337.2,862.9 L1338.1,861.7 L1339.0,860.5 L1339.9,859.3 L1340.9,858.1 L1341.8,857.0 L1342.7,855.8 L1343.6,854.6 L1344.5,853.4 L1345.5,852.2 L1346.4,851.0 L1347.3,849.9 L1348.2,848.7 L1349.2,847.5 L1350.1,846.3 L1351.0,845.1 L1352.0,844.0 L1352.9,842.8 L1353.8,841.6 L1354.8,840.4 L1355.7,839.3 L1356.7,838.1 L1357.6,836.9 L1358.5,835.8 L1359.5,834.6 L1360.4,833.4 L1361.4,832.2 L1362.3,831.1 L1363.2,829.9 L1364.2,828.7 L1365.1,827.5 L1366.0,826.4 L1367.0,825.2 L1367.9,824.0 L1368.8,822.8 L1369.8,821.7 L1370.7,820.5 L1371.6,819.3 L1372.5,818.1 L1373.4,816.9 L1374.4,815.7 L1375.3,814.5 L1376.2,813.3 L1377.1,812.1 L1378.0,810.9 L1378.9,809.7 L1379.8,808.5 L1380.7,807.3 L1381.6,806.1 L1382.5,804.9 L1383.4,803.7 L1384.3,802.5 L1385.2,801.3 L1386.1,800.1 L1386.9,798.9 L1387.8,797.7 L1388.7,796.5 L1389.6,795.2 L1390.5,794.0 L1391.4,792.8 L1392.3,791.6 L1393.1,790.4 L1394.0,789.2 L1394.9,788.0 L1395.8,786.8 L1396.7,785.5 L1397.6,784.3 L1398.5,783.1 L1399.4,781.9 L1400.2,780.7 L1401.1,779.5 L1402.0,778.3 L1402.9,777.1 L1403.8,775.9 L1404.7,774.7 L1405.6,773.5 L1406.5,772.3 L1407.4,771.1 L1408.3,769.9 L1409.2,768.7 L1410.2,767.5 L1411.1,766.3 L1412.0,765.1 L1412.9,763.9 L1413.8,762.7 L1414.8,761.6 L1415.7,760.4 L1416.7,759.2 L1417.6,758.0 L1418.5,756.9 L1419.5,755.7 L1420.5,754.6 L1421.4,753.4 L1422.4,752.3 L1423.4,751.1 L1424.4,750.0 L1425.4,748.9 L1426.4,747.7 L1427.4,746.6 L1428.4,745.5 L1429.4,744.4 L1430.4,743.3 L1431.5,742.3 L1432.5,741.2 L1433.6,740.1 L1434.7,739.1 L1435.7,738.0 L1436.8,737.0 L1438.0,736.0 L1439.1,735.0 L1440.2,734.0 L1441.4,733.1 L1442.5,732.1 L1443.7,731.2 L1444.9,730.3 L1446.1,729.4 L1447.3,728.5 L1448.6,727.6 L1449.8,726.8 L1451.1,726.0 L1452.4,725.2 L1453.6,724.4 L1455.0,723.7 L1456.3,723.0 L1457.6,722.3 L1458.9,721.6 L1460.3,720.9 L1461.6,720.3 L1463.0,719.7 L1464.4,719.1 L1465.8,718.5 L1467.2,718.0 L1468.6,717.5 L1470.0,716.9 L1471.4,716.5 L1472.9,716.0 L1474.3,715.5 L1475.7,715.1 L1477.2,714.7 L1478.6,714.3 L1480.1,713.9 L1481.5,713.5 L1483.0,713.2 L1484.4,712.8 L1485.9,712.5 L1487.4,712.2 L1488.8,711.8 L1490.3,711.5 L1491.8,711.2 L1493.2,710.9 L1494.7,710.6 L1496.2,710.3 L1497.7,710.0 L1499.1,709.7 L1500.6,709.5 L1502.1,709.2 L1503.6,708.9 L1505.0,708.6 L1506.5,708.3 L1508.0,707.9 L1509.4,707.6 L1510.9,707.3 L1512.4,707.0 L1513.8,706.6 L1515.3,706.3 L1516.8,705.9 L1518.2,705.6 L1519.7,705.2 L1521.1,704.8 L1522.6,704.4 L1524.0,704.0 L1525.5,703.6 L1526.9,703.2 L1528.3,702.8 L1529.8,702.3 L1531.2,701.9 L1532.6,701.4 L1534.1,700.9 L1535.5,700.4 L1536.9,699.9 L1538.3,699.4 L1539.7,698.9 L1541.1,698.4 L1542.5,697.8 L1543.9,697.3 L1545.3,696.7 L1546.7,696.2 L1548.1,695.6 L1549.5,695.1 L1550.9,694.5 L1552.3,694.0 L1553.7,693.4 L1555.1,692.9 L1556.5,692.4 L1557.9,691.9 L1559.3,691.4 L1560.8,690.9 L1562.2,690.4 L1563.6,690.0 L1565.1,689.6 L1566.5,689.2 L1568.0,688.9 L1569.5,688.6 L1571.0,688.3 L1572.4,688.1 L1573.9,687.9 L1575.4,687.8 L1576.9,687.7 L1578.4,687.6 L1579.9,687.6 L1581.4,687.7 L1582.9,687.8 L1584.4,687.9 L1585.9,688.1 L1587.4,688.3 L1588.9,688.6 L1590.3,688.9 L1591.8,689.3 L1593.3,689.6 L1594.7,690.1 L1596.1,690.5 L1597.5,691.0 L1598.9,691.5 L1600.3,692.1 L1601.7,692.7 L1603.1,693.3 L1604.5,693.9 L1605.8,694.6 L1607.1,695.3 L1608.5,696.0 L1609.8,696.7 L1611.1,697.5 L1612.4,698.2 L1613.6,699.0 L1614.9,699.8 L1616.2,700.7 L1617.4,701.5 L1618.7,702.3 L1619.9,703.2 L1621.1,704.1 L1622.3,704.9 L1623.5,705.8 L1624.7,706.7 L1625.9,707.7 L1627.1,708.6 L1628.3,709.5 L1629.5,710.4 L1630.6,711.4 L1631.8,712.3 L1633.0,713.3 L1634.1,714.3 L1635.3,715.2 L1636.4,716.2 L1637.6,717.2 L1638.7,718.2 L1639.8,719.1 L1640.9,720.1 L1642.1,721.1 L1643.2,722.1 L1644.3,723.1 L1645.4,724.1 L1646.5,725.2 L1647.6,726.2 L1648.7,727.2 L1649.8,728.2 L1650.9,729.3 L1652.0,730.3 L1653.0,731.4 L1654.1,732.5 L1655.2,733.5 L1656.2,734.6 L1657.2,735.7 L1658.3,736.8 L1659.3,737.9 L1660.3,739.0 L1661.3,740.1 L1662.3,741.2 L1663.3,742.3 L1664.3,743.5 L1665.3,744.6 L1666.3,745.7 L1667.2,746.9 L1668.2,748.1 L1669.1,749.2 L1670.1,750.4 L1671.0,751.6 L1671.9,752.8 L1672.8,754.0 L1673.7,755.2 L1674.6,756.4 L1675.5,757.6 L1676.4,758.8 L1677.3,760.0 L1678.2,761.2 L1679.0,762.4 L1679.9,763.7 L1680.8,764.9 L1681.6,766.1 L1682.5,767.3 L1683.3,768.6 L1684.2,769.8 L1685.0,771.1 L1685.9,772.3 L1686.7,773.6 L1687.6,774.8 L1688.4,776.0 L1689.2,777.3 L1690.1,778.5 L1690.9,779.8 L1691.7,781.0 L1692.6,782.3 L1693.4,783.6 L1694.2,784.8 L1695.0,786.1 L1695.9,787.3 L1696.7,788.6 L1697.5,789.8 L1698.3,791.1 L1699.2,792.3 L1700.0,793.6 L1700.8,794.8 L1701.7,796.1 L1702.5,797.3 L1703.3,798.6 L1704.2,799.8 L1705.0,801.1 L1705.8,802.3 L1706.7,803.6 L1707.5,804.8 L1708.3,806.1 L1709.2,807.3 L1710.0,808.6 L1710.9,809.8 L1711.7,811.0 L1712.6,812.3 L1713.4,813.5 L1714.3,814.7 L1715.1,816.0 L1716.0,817.2 L1716.8,818.5 L1717.7,819.7 L1718.6,820.9 L1719.4,822.1 L1720.3,823.4 L1721.1,824.6 L1722.0,825.8 L1722.9,827.1 L1723.7,828.3 L1724.6,829.5 L1725.4,830.8 L1726.3,832.0 L1727.2,833.2 L1728.0,834.4 L1728.9,835.7 L1729.8,836.9 L1730.6,838.1 L1731.5,839.4 L1732.4,840.6 L1733.2,841.8 L1734.1,843.0 L1735.0,844.3 L1735.8,845.5 L1736.7,846.7 L1737.6,847.9 L1738.4,849.2 L1739.3,850.4 L1740.2,851.6 L1741.1,852.8 L1741.9,854.1 L1742.8,855.3 L1743.7,856.5 L1744.5,857.7 L1745.4,859.0 L1746.3,860.2 L1747.1,861.4 L1748.0,862.6 L1748.9,863.9 L1749.8,865.1 L1750.6,866.3 L1751.5,867.5 L1752.4,868.7 L1753.3,869.9 L1754.1,871.2 L1755.0,872.4 L1755.9,873.6 L1756.8,874.8 L1757.7,876.0 L1758.6,877.2 L1759.5,878.4 L1760.4,879.6 L1761.3,880.8 L1762.2,882.0 L1763.1,883.2 L1764.0,884.4 L1764.9,885.6 L1765.8,886.8 L1766.7,888.0 L1767.6,889.2 L1768.5,890.4 L1769.5,891.6 L1770.4,892.8 L1771.3,894.0 L1772.2,895.1 L1773.2,896.3 L1774.1,897.5 L1775.0,898.7 L1776.0,899.8 L1776.9,901.0 L1777.9,902.2 L1778.9,903.3 L1779.8,904.5 L1780.8,905.6 L1781.8,906.8 L1782.7,907.9 L1783.7,909.0 L1784.7,910.2 L1785.7,911.3 L1786.7,912.4 L1787.7,913.5 L1788.7,914.6 L1789.7,915.8 L1790.7,916.9 L1791.8,917.9 L1792.8,919.0 L1793.9,920.1 L1794.9,921.2 L1796.0,922.3 L1797.0,923.3 L1798.1,924.4 L1799.2,925.4 L1800.3,926.4 L1801.4,927.5 L1802.5,928.5 L1803.6,929.5 L1804.7,930.5 L1805.8,931.5 L1807.0,932.4 L1808.1,933.4 L1809.3,934.4 L1810.5,935.3 L1811.6,936.2 L1812.8,937.2 L1814.0,938.1 L1815.2,939.0 L1816.4,939.9 L1817.7,940.7 L1818.9,941.6 L1820.1,942.5 L1821.3,943.3 L1822.6,944.2 L1823.8,945.0 L1825.1,945.8 L1826.3,946.7 L1827.6,947.5 L1828.9,948.3 L1830.1,949.1 L1831.4,949.9 L1832.7,950.6 L1834.0,951.4 L1835.3,952.2 L1836.6,953.0 L1837.9,953.7 L1839.2,954.5 L1840.5,955.2 L1841.8,956.0 L1843.1,956.7 L1844.4,957.5 L1845.7,958.2 L1847.0,959.0 L1848.3,959.7 L1849.6,960.4 L1850.9,961.2 L1852.2,961.9 L1853.5,962.7 L1854.8,963.4 L1856.1,964.2 L1857.4,965.0 L1858.7,965.7 L1860.0,966.5 L1861.2,967.3 L1862.5,968.1 L1863.8,968.9 L1865.1,969.7 L1866.3,970.5 L1867.6,971.3 L1868.8,972.2 L1870.1,973.0 L1871.3,973.8 L1872.5,974.7 L1873.8,975.6 L1875.0,976.4 L1876.2,977.3 L1877.4,978.2 L1878.6,979.1 L1879.8,980.0 L1881.0,980.9 L1882.2,981.8 L1883.4,982.8 L1884.6,983.7 L1885.7,984.6 L1886.9,985.6 L1888.1,986.5 L1889.3,987.5 L1890.4,988.4 L1891.6,989.4 L1892.7,990.3 L1893.9,991.3 L1895.0,992.3 L1896.2,993.2 L1897.3,994.2 L1898.4,995.2 L1899.6,996.2 L1900.7,997.2 L1901.8,998.2 L1903.0,999.1 L1904.1,1000.1 L1905.2,1001.1 L1906.4,1002.1 L1907.5,1003.1 L1908.6,1004.1 L1909.7,1005.1 L1910.8,1006.1 L1912.0,1007.1 L1913.1,1008.1 L1914.2,1009.1 L1915.3,1010.1 L1916.5,1011.1 L1917.6,1012.1 L1918.7,1013.1 L1919.8,1014.1 L1921.0,1015.1 L1922.1,1016.0 L1923.2,1017.0 L1924.4,1018.0 L1925.5,1019.0 L1926.7,1020.0 L1927.8,1020.9 L1929.0,1021.9 L1930.1,1022.8 L1931.3,1023.8 L1932.5,1024.7 L1933.6,1025.7 L1934.8,1026.6 L1936.0,1027.6 L1937.2,1028.5 L1938.3,1029.4 L1939.5,1030.3 L1940.7,1031.2 L1941.9,1032.1 L1943.1,1033.0 L1944.4,1033.9 L1945.6,1034.8 L1946.8,1035.7 L1948.0,1036.5 L1949.2,1037.4 L1950.5,1038.2 L1951.7,1039.1 L1953.0,1039.9 L1954.2,1040.8 L1955.5,1041.6 L1956.7,1042.4 L1958.0,1043.2 L1959.2,1044.1 L1960.5,1044.9 L1961.8,1045.7 L1963.1,1046.5 L1964.3,1047.2 L1965.6,1048.0 L1966.9,1048.8 L1968.2,1049.6 L1969.5,1050.3 L1970.8,1051.1 L1972.1,1051.8 L1973.4,1052.6 L1974.7,1053.3 L1976.0,1054.0 L1977.3,1054.8 L1978.6,1055.5 L1980.0,1056.2 L1981.3,1056.9 L1982.6,1057.6 L1983.9,1058.3 L1985.3,1059.0 L1986.6,1059.7 L1987.9,1060.4 L1989.3,1061.1 L1990.6,1061.8 L1991.9,1062.5 L1993.3,1063.2 L1994.6,1063.8 L1996.0,1064.5 L1997.3,1065.2 L1998.7,1065.8 L2000.0,1066.5 L2001.4,1067.2 L2002.7,1067.8 L2004.1,1068.5 L2005.4,1069.1 L2006.8,1069.8 L2008.1,1070.4 L2009.5,1071.1 L2010.8,1071.7 L2012.2,1072.4 L2013.6,1073.0 L2014.9,1073.6 L2016.3,1074.2 L2017.7,1074.8 L2019.0,1075.5 L2020.4,1076.1 L2021.8,1076.7 L2023.2,1077.3 L2024.5,1077.9 L2025.9,1078.4 L2027.3,1079.0 L2028.7,1079.6 L2030.1,1080.1 L2031.5,1080.7 L2032.9,1081.2 L2034.3,1081.8 L2035.7,1082.3 L2037.1,1082.8 L2038.5,1083.4 L2039.9,1083.9 L2041.3,1084.4 L2042.8,1084.8 L2044.2,1085.3 L2045.6,1085.8 L2047.0,1086.3 L2048.5,1086.7 L2049.9,1087.1 L2051.4,1087.6 L2052.8,1088.0 L2054.2,1088.4 L2055.7,1088.8 L2057.1,1089.1 L2058.6,1089.5 L2060.1,1089.8 L2061.5,1090.2 L2063.0,1090.5 L2064.5,1090.8 L2065.9,1091.1 L2067.4,1091.4 L2068.9,1091.7 L2070.4,1091.9 L2071.8,1092.2 L2073.3,1092.4 L2074.8,1092.7 L2076.3,1092.9 L2077.8,1093.1 L2079.3,1093.3 L2080.8,1093.5 L2082.3,1093.6 L2083.8,1093.8 L2085.2,1094.0 L2086.7,1094.1 L2088.2,1094.3 L2089.7,1094.4 L2091.2,1094.5 L2092.7,1094.6 L2094.2,1094.7 L2095.7,1094.8 L2097.2,1094.9 L2098.7,1095.0 L2100.2,1095.1 L2101.7,1095.1 L2103.2,1095.2 L2104.7,1095.3 L2106.2,1095.3 L2107.7,1095.3 L2109.2,1095.4 L2110.7,1095.4 L2112.2,1095.4 L2113.7,1095.4 L2115.2,1095.4 L2116.7,1095.5 L2118.2,1095.5 L2119.7,1095.5 L2121.2,1095.5 L2122.7,1095.5 L2124.2,1095.4 L2125.7,1095.4 L2127.2,1095.4 L2128.7,1095.4 L2130.3,1095.4 L2131.8,1095.4 L2133.3,1095.4 L2134.8,1095.4 L2136.3,1095.4 L2137.8,1095.4 L2139.3,1095.4 L2140.8,1095.4 L2142.3,1095.4 L2143.8,1095.4 L2145.3,1095.4 L2146.8,1095.4 L2148.3,1095.4 L2149.8,1095.4 L2151.3,1095.4 L2152.8,1095.4 L2154.3,1095.4 L2155.8,1095.4 L2157.3,1095.3 L2158.8,1095.3 L2160.3,1095.3 L2161.8,1095.3 L2163.3,1095.3 L2164.8,1095.3 L2166.3,1095.3 L2167.8,1095.3 L2169.3,1095.2 L2170.8,1095.2" fill="none" stroke="#000000" stroke-width="4.17" stroke-linecap="round" stroke-linejoin="round"/>
<path d="M1071,1167.85H1074V1203.05H1071ZM1101,1167.85H1104V1203.05H1101ZM1110,1167.85H1116V1203.05H1110ZM1138,1167.85H1143V1203.05H1138ZM1151,1167.85H1156V1203.05H1151ZM1169,1167.85H1172V1203.05H1169ZM1179,1167.85H1187V1203.05H1179ZM1195,1167.85H1202V1203.05H1195ZM1203,1167.85H1232V1203.05H1203ZM1233,1167.85H1236V1203.05H1233ZM1238,1167.85H1254V1203.05H1238ZM1255,1167.85H1264V1203.05H1255ZM1266,1167.85H1783V1203.05H1266ZM1784,1167.85H1813V1203.05H1784ZM1814,1167.85H1864V1203.05H1814ZM1866,1167.85H1909V1203.05H1866ZM1913,1167.85H1925V1203.05H1913ZM1926,1167.85H1939V1203.05H1926ZM1943,1167.85H1951V1203.05H1943ZM1953,1167.85H1961V1203.05H1953ZM1965,1167.85H1977V1203.05H1965ZM1985,1167.85H1994V1203.05H1985ZM1997,1167.85H2004V1203.05H1997ZM2006,1167.85H2012V1203.05H2006ZM2024,1167.85H2027V1203.05H2024ZM2032,1167.85H2037V1203.05H2032ZM2052,1167.85H2055V1203.05H2052ZM2094,1167.85H2097V1203.05H2094ZM2116,1167.85H2120V1203.05H2116ZM2147,1167.85H2150V1203.05H2147ZM2171,1167.85H2174V1203.05H2171Z" fill="#000000"/>
<path d="M395.0,1079.9 L396.5,1080.0 L398.0,1080.1 L399.5,1080.2 L401.0,1080.3 L402.5,1080.4 L404.0,1080.5 L405.5,1080.6 L407.0,1080.7 L408.5,1080.8 L410.0,1080.9 L411.5,1081.1 L413.0,1081.3 L414.5,1081.4 L416.0,1081.5 L417.4,1081.7 L418.9,1081.7 L420.5,1081.8 L422.0,1081.7 L423.4,1081.6 L424.9,1081.4 L426.4,1081.2 L427.9,1080.8 L429.3,1080.3 L430.7,1079.8 L432.1,1079.2 L433.4,1078.5 L434.7,1077.8 L436.0,1077.0 L437.3,1076.2 L438.5,1075.3 L439.7,1074.4 L440.9,1073.4 L442.0,1072.5 L443.1,1071.5 L444.3,1070.5 L445.4,1069.5 L446.4,1068.4 L447.5,1067.4 L448.6,1066.3 L449.6,1065.2 L450.6,1064.1 L451.6,1063.0 L452.6,1061.9 L453.6,1060.7 L454.6,1059.6 L455.5,1058.4 L456.4,1057.3 L457.4,1056.1 L458.3,1054.9 L459.2,1053.7 L460.0,1052.4 L460.9,1051.2 L461.7,1050.0 L462.6,1048.7 L463.4,1047.5 L464.2,1046.2 L465.0,1044.9 L465.8,1043.7 L466.6,1042.4 L467.3,1041.1 L468.1,1039.8 L468.8,1038.5 L469.5,1037.1 L470.3,1035.8 L471.0,1034.5 L471.7,1033.2 L472.3,1031.8 L473.0,1030.5 L473.7,1029.1 L474.3,1027.8 L475.0,1026.4 L475.6,1025.1 L476.3,1023.7 L476.9,1022.3 L477.5,1021.0 L478.1,1019.6 L478.7,1018.2 L479.3,1016.8 L479.8,1015.5 L480.4,1014.1 L481.0,1012.7 L481.5,1011.3 L482.1,1009.9 L482.6,1008.5 L483.2,1007.1 L483.7,1005.7 L484.2,1004.3 L484.7,1002.9 L485.2,1001.4 L485.7,1000.0 L486.2,998.6 L486.7,997.2 L487.2,995.8 L487.7,994.3 L488.2,992.9 L488.6,991.5 L489.1,990.1 L489.6,988.6 L490.0,987.2 L490.5,985.8 L490.9,984.3 L491.4,982.9 L491.8,981.5 L492.2,980.0 L492.6,978.6 L493.1,977.2 L493.5,975.7 L493.9,974.3 L494.3,972.8 L494.7,971.4 L495.1,969.9 L495.5,968.5 L495.9,967.0 L496.3,965.6 L496.7,964.1 L497.1,962.7 L497.5,961.2 L497.8,959.8 L498.2,958.3 L498.6,956.9 L498.9,955.4 L499.3,954.0 L499.7,952.5 L500.0,951.0 L500.4,949.6 L500.7,948.1 L501.1,946.7 L501.4,945.2 L501.8,943.7 L502.1,942.3 L502.5,940.8 L502.8,939.4 L503.1,937.9 L503.5,936.4 L503.8,935.0 L504.1,933.5 L504.5,932.0 L504.8,930.6 L505.1,929.1 L505.4,927.6 L505.8,926.2 L506.1,924.7 L506.4,923.2 L506.7,921.8 L507.0,920.3 L507.3,918.8 L507.6,917.4 L507.9,915.9 L508.2,914.4 L508.6,912.9 L508.9,911.5 L509.2,910.0 L509.5,908.5 L509.8,907.1 L510.1,905.6 L510.3,904.1 L510.6,902.6 L510.9,901.2 L511.2,899.7 L511.5,898.2 L511.8,896.8 L512.1,895.3 L512.4,893.8 L512.7,892.3 L513.0,890.9 L513.2,889.4 L513.5,887.9 L513.8,886.4 L514.1,885.0 L514.4,883.5 L514.6,882.0 L514.9,880.5 L515.2,879.1 L515.5,877.6 L515.7,876.1 L516.0,874.6 L516.3,873.1 L516.6,871.7 L516.8,870.2 L517.1,868.7 L517.4,867.2 L517.7,865.8 L517.9,864.3 L518.2,862.8 L518.5,861.3 L518.7,859.9 L519.0,858.4 L519.3,856.9 L519.5,855.4 L519.8,853.9 L520.1,852.5 L520.3,851.0 L520.6,849.5 L520.9,848.0 L521.1,846.6 L521.4,845.1 L521.7,843.6 L521.9,842.1 L522.2,840.6 L522.4,839.2 L522.7,837.7 L523.0,836.2 L523.2,834.7 L523.5,833.3 L523.8,831.8 L524.0,830.3 L524.3,828.8 L524.5,827.3 L524.8,825.9 L525.1,824.4 L525.3,822.9 L525.6,821.4 L525.9,819.9 L526.1,818.5 L526.4,817.0 L526.6,815.5 L526.9,814.0 L527.2,812.6 L527.4,811.1 L527.7,809.6 L528.0,808.1 L528.2,806.6 L528.5,805.2 L528.7,803.7 L529.0,802.2 L529.3,800.7 L529.5,799.3 L529.8,797.8 L530.1,796.3 L530.3,794.8 L530.6,793.3 L530.9,791.9 L531.1,790.4 L531.4,788.9 L531.7,787.4 L531.9,785.9 L532.2,784.5 L532.4,783.0 L532.7,781.5 L533.0,780.0 L533.2,778.6 L533.5,777.1 L533.8,775.6 L534.0,774.1 L534.3,772.6 L534.6,771.2 L534.8,769.7 L535.1,768.2 L535.4,766.7 L535.6,765.3 L535.9,763.8 L536.2,762.3 L536.4,760.8 L536.7,759.3 L537.0,757.9 L537.2,756.4 L537.5,754.9 L537.8,753.4 L538.0,752.0 L538.3,750.5 L538.6,749.0 L538.8,747.5 L539.1,746.0 L539.4,744.6 L539.6,743.1 L539.9,741.6 L540.2,740.1 L540.4,738.7 L540.7,737.2 L541.0,735.7 L541.2,734.2 L541.5,732.7 L541.8,731.3 L542.0,729.8 L542.3,728.3 L542.5,726.8 L542.8,725.4 L543.1,723.9 L543.3,722.4 L543.6,720.9 L543.9,719.4 L544.1,718.0 L544.4,716.5 L544.7,715.0 L544.9,713.5 L545.2,712.1 L545.5,710.6 L545.7,709.1 L546.0,707.6 L546.2,706.1 L546.5,704.7 L546.8,703.2 L547.0,701.7 L547.3,700.2 L547.6,698.8 L547.8,697.3 L548.1,695.8 L548.3,694.3 L548.6,692.8 L548.9,691.4 L549.1,689.9 L549.4,688.4 L549.6,686.9 L549.9,685.4 L550.2,684.0 L550.4,682.5 L550.7,681.0 L550.9,679.5 L551.2,678.0 L551.4,676.6 L551.7,675.1 L551.9,673.6 L552.2,672.1 L552.5,670.6 L552.7,669.2 L553.0,667.7 L553.2,666.2 L553.5,664.7 L553.7,663.2 L554.0,661.8 L554.2,660.3 L554.5,658.8 L554.7,657.3 L554.9,655.8 L555.2,654.4 L555.4,652.9 L555.7,651.4 L555.9,649.9 L556.2,648.4 L556.4,647.0 L556.7,645.5 L556.9,644.0 L557.1,642.5 L557.4,641.0 L557.6,639.5 L557.9,638.1 L558.1,636.6 L558.3,635.1 L558.6,633.6 L558.8,632.1 L559.0,630.6 L559.3,629.2 L559.5,627.7 L559.7,626.2 L560.0,624.7 L560.2,623.2 L560.4,621.7 L560.7,620.3 L560.9,618.8 L561.1,617.3 L561.3,615.8 L561.6,614.3 L561.8,612.8 L562.0,611.4 L562.2,609.9 L562.4,608.4 L562.7,606.9 L562.9,605.4 L563.1,603.9 L563.3,602.4 L563.5,601.0 L563.8,599.5 L564.0,598.0 L564.2,596.5 L564.4,595.0 L564.6,593.5 L564.8,592.0 L565.1,590.6 L565.3,589.1 L565.5,587.6 L565.7,586.1 L565.9,584.6 L566.1,583.1 L566.3,581.6 L566.5,580.1 L566.8,578.7 L567.0,577.2 L567.2,575.7 L567.4,574.2 L567.6,572.7 L567.8,571.2 L568.0,569.7 L568.2,568.3 L568.4,566.8 L568.6,565.3 L568.8,563.8 L569.0,562.3 L569.2,560.8 L569.4,559.3 L569.6,557.8 L569.9,556.4 L570.1,554.9 L570.3,553.4 L570.5,551.9 L570.7,550.4 L570.9,548.9 L571.1,547.4 L571.3,545.9 L571.5,544.4 L571.7,543.0 L571.9,541.5 L572.1,540.0 L572.3,538.5 L572.5,537.0 L572.7,535.5 L572.9,534.0 L573.1,532.5 L573.3,531.1 L573.5,529.6 L573.7,528.1 L573.9,526.6 L574.1,525.1 L574.2,523.6 L574.4,522.1 L574.6,520.6 L574.8,519.1 L575.0,517.7 L575.2,516.2 L575.4,514.7 L575.6,513.2 L575.8,511.7 L576.0,510.2 L576.2,508.7 L576.4,507.2 L576.6,505.7 L576.8,504.3 L577.0,502.8 L577.2,501.3 L577.4,499.8 L577.6,498.3 L577.8,496.8 L578.0,495.3 L578.2,493.8 L578.4,492.4 L578.5,490.9 L578.7,489.4 L578.9,487.9 L579.1,486.4 L579.3,484.9 L579.5,483.4 L579.7,481.9 L579.9,480.4 L580.1,479.0 L580.3,477.5 L580.5,476.0 L580.7,474.5 L580.9,473.0 L581.1,471.5 L581.3,470.0 L581.5,468.5 L581.7,467.0 L581.9,465.6 L582.0,464.1 L582.2,462.6 L582.4,461.1 L582.6,459.6 L582.8,458.1 L583.0,456.6 L583.2,455.1 L583.4,453.6 L583.6,452.2 L583.8,450.7 L584.0,449.2 L584.2,447.7 L584.4,446.2 L584.6,444.7 L584.8,443.2 L585.0,441.7 L585.2,440.2 L585.4,438.8 L585.6,437.3 L585.8,435.8 L586.0,434.3 L586.2,432.8 L586.4,431.3 L586.6,429.8 L586.8,428.3 L587.0,426.9 L587.2,425.4 L587.4,423.9 L587.6,422.4 L587.8,420.9 L588.0,419.4 L588.2,417.9 L588.4,416.4 L588.6,414.9 L588.8,413.5 L589.0,412.0 L589.2,410.5 L589.4,409.0 L589.6,407.5 L589.8,406.0 L590.1,404.5 L590.3,403.1 L590.5,401.6 L590.7,400.1 L590.9,398.6 L591.1,397.1 L591.3,395.6 L591.5,394.1 L591.7,392.6 L592.0,391.2 L592.2,389.7 L592.4,388.2 L592.6,386.7 L592.8,385.2 L593.0,383.7 L593.3,382.2 L593.5,380.8 L593.7,379.3 L593.9,377.8 L594.1,376.3 L594.4,374.8 L594.6,373.3 L594.8,371.9 L595.0,370.4 L595.3,368.9 L595.5,367.4 L595.7,365.9 L596.0,364.4 L596.2,362.9 L596.4,361.5 L596.7,360.0 L596.9,358.5 L597.1,357.0 L597.4,355.5 L597.6,354.0 L597.8,352.6 L598.1,351.1 L598.3,349.6 L598.6,348.1 L598.8,346.6 L599.1,345.2 L599.3,343.7 L599.5,342.2 L599.8,340.7 L600.0,339.2 L600.3,337.8 L600.6,336.3 L600.8,334.8 L601.1,333.3 L601.3,331.8 L601.6,330.4 L601.8,328.9 L602.1,327.4 L602.4,325.9 L602.6,324.4 L602.9,323.0 L603.2,321.5 L603.4,320.0 L603.7,318.5 L604.0,317.1 L604.3,315.6 L604.5,314.1 L604.8,312.6 L605.1,311.2 L605.4,309.7 L605.7,308.2 L606.0,306.7 L606.3,305.3 L606.6,303.8 L606.9,302.3 L607.2,300.9 L607.5,299.4 L607.8,297.9 L608.1,296.4 L608.4,295.0 L608.7,293.5 L609.0,292.0 L609.3,290.6 L609.7,289.1 L610.0,287.6 L610.3,286.2 L610.7,284.7 L611.0,283.2 L611.3,281.8 L611.7,280.3 L612.0,278.9 L612.4,277.4 L612.8,275.9 L613.1,274.5 L613.5,273.0 L613.9,271.6 L614.3,270.1 L614.6,268.7 L615.0,267.2 L615.4,265.8 L615.8,264.3 L616.3,262.9 L616.7,261.5 L617.1,260.0 L617.5,258.6 L618.0,257.1 L618.4,255.7 L618.9,254.3 L619.4,252.9 L619.8,251.4 L620.3,250.0 L620.8,248.6 L621.3,247.2 L621.9,245.8 L622.4,244.4 L622.9,243.0 L623.5,241.6 L624.1,240.2 L624.6,238.8 L625.2,237.4 L625.8,236.1 L626.5,234.7 L627.1,233.3 L627.8,232.0 L628.4,230.6 L629.1,229.3 L629.8,228.0 L630.6,226.7 L631.3,225.4 L632.1,224.1 L632.8,222.8 L633.6,221.5 L634.4,220.2 L635.3,219.0 L636.1,217.7 L637.0,216.5 L637.8,215.3 L638.7,214.1 L639.7,212.9 L640.6,211.7 L641.6,210.6 L642.5,209.4 L643.6,208.3 L644.6,207.2 L645.7,206.2 L646.8,205.2 L647.9,204.2 L649.1,203.2 L650.3,202.3 L651.5,201.5 L652.8,200.7 L654.1,200.0 L655.5,199.4 L656.9,198.9 L658.4,198.5 L659.9,198.3 L661.3,198.2 L662.8,198.2 L664.3,198.4 L665.8,198.7 L667.2,199.2 L668.6,199.9 L669.8,200.7 L671.0,201.6 L672.1,202.6 L673.2,203.7 L674.1,204.8 L675.1,206.0 L675.9,207.3 L676.7,208.5 L677.5,209.8 L678.2,211.1 L678.9,212.4 L679.6,213.8 L680.3,215.1 L680.9,216.5 L681.5,217.9 L682.1,219.3 L682.7,220.6 L683.2,222.0 L683.7,223.4 L684.2,224.9 L684.8,226.3 L685.2,227.7 L685.7,229.1 L686.2,230.5 L686.6,232.0 L687.1,233.4 L687.5,234.8 L688.0,236.3 L688.4,237.7 L688.8,239.2 L689.2,240.6 L689.6,242.1 L690.0,243.5 L690.4,245.0 L690.8,246.4 L691.1,247.9 L691.5,249.3 L691.9,250.8 L692.2,252.2 L692.6,253.7 L692.9,255.1 L693.3,256.6 L693.6,258.1 L694.0,259.5 L694.3,261.0 L694.7,262.5 L695.0,263.9 L695.3,265.4 L695.7,266.8 L696.0,268.3 L696.3,269.8 L696.6,271.2 L697.0,272.7 L697.3,274.2 L697.6,275.6 L697.9,277.1 L698.2,278.6 L698.6,280.0 L698.9,281.5 L699.2,283.0 L699.5,284.5 L699.8,285.9 L700.1,287.4 L700.4,288.9 L700.7,290.3 L701.0,291.8 L701.3,293.3 L701.6,294.7 L701.9,296.2 L702.2,297.7 L702.5,299.2 L702.8,300.6 L703.1,302.1 L703.4,303.6 L703.7,305.0 L704.0,306.5 L704.3,308.0 L704.6,309.5 L704.9,310.9 L705.2,312.4 L705.5,313.9 L705.8,315.4 L706.1,316.8 L706.4,318.3 L706.7,319.8 L707.0,321.2 L707.2,322.7 L707.5,324.2 L707.8,325.7 L708.1,327.1 L708.4,328.6 L708.7,330.1 L709.0,331.6 L709.3,333.0 L709.6,334.5 L709.9,336.0 L710.2,337.4 L710.4,338.9 L710.7,340.4 L711.0,341.9 L711.3,343.3 L711.6,344.8 L711.9,346.3 L712.1,347.8 L712.4,349.2 L712.7,350.7 L713.0,352.2 L713.3,353.7 L713.6,355.1 L713.8,356.6 L714.1,358.1 L714.4,359.6 L714.7,361.0 L714.9,362.5 L715.2,364.0 L715.5,365.5 L715.8,366.9 L716.0,368.4 L716.3,369.9 L716.6,371.4 L716.8,372.9 L717.1,374.3 L717.4,375.8 L717.6,377.3 L717.9,378.8 L718.2,380.2 L718.4,381.7 L718.7,383.2 L719.0,384.7 L719.2,386.2 L719.5,387.6 L719.7,389.1 L720.0,390.6 L720.3,392.1 L720.5,393.6 L720.8,395.0 L721.0,396.5 L721.3,398.0 L721.5,399.5 L721.8,401.0 L722.0,402.4 L722.3,403.9 L722.5,405.4 L722.8,406.9 L723.0,408.4 L723.3,409.8 L723.5,411.3 L723.8,412.8 L724.0,414.3 L724.2,415.8 L724.5,417.2 L724.7,418.7 L725.0,420.2 L725.2,421.7 L725.4,423.2 L725.7,424.7 L725.9,426.1 L726.1,427.6 L726.4,429.1 L726.6,430.6 L726.8,432.1 L727.1,433.6 L727.3,435.0 L727.5,436.5 L727.8,438.0 L728.0,439.5 L728.2,441.0 L728.4,442.5 L728.7,443.9 L728.9,445.4 L729.1,446.9 L729.3,448.4 L729.6,449.9 L729.8,451.4 L730.0,452.9 L730.2,454.3 L730.4,455.8 L730.7,457.3 L730.9,458.8 L731.1,460.3 L731.3,461.8 L731.5,463.3 L731.7,464.7 L732.0,466.2 L732.2,467.7 L732.4,469.2 L732.6,470.7 L732.8,472.2 L733.0,473.7 L733.2,475.1 L733.4,476.6 L733.7,478.1 L733.9,479.6 L734.1,481.1 L734.3,482.6 L734.5,484.1 L734.7,485.6 L734.9,487.0 L735.1,488.5 L735.3,490.0 L735.5,491.5 L735.7,493.0 L736.0,494.5 L736.2,496.0 L736.4,497.5 L736.6,498.9 L736.8,500.4 L737.0,501.9 L737.2,503.4 L737.4,504.9 L737.6,506.4 L737.8,507.9 L738.0,509.4 L738.2,510.8 L738.4,512.3 L738.6,513.8 L738.8,515.3 L739.0,516.8 L739.2,518.3 L739.4,519.8 L739.6,521.3 L739.9,522.7 L740.1,524.2 L740.3,525.7 L740.5,527.2 L740.7,528.7 L740.9,530.2 L741.1,531.7 L741.3,533.2 L741.5,534.6 L741.7,536.1 L741.9,537.6 L742.1,539.1 L742.3,540.6 L742.5,542.1 L742.7,543.6 L742.9,545.1 L743.1,546.5 L743.3,548.0 L743.5,549.5 L743.7,551.0 L743.9,552.5 L744.1,554.0 L744.4,555.5 L744.6,557.0 L744.8,558.4 L745.0,559.9 L745.2,561.4 L745.4,562.9 L745.6,564.4 L745.8,565.9 L746.0,567.4 L746.2,568.8 L746.4,570.3 L746.6,571.8 L746.8,573.3 L747.0,574.8 L747.3,576.3 L747.5,577.8 L747.7,579.3 L747.9,580.7 L748.1,582.2 L748.3,583.7 L748.5,585.2 L748.7,586.7 L748.9,588.2 L749.1,589.7 L749.4,591.2 L749.6,592.6 L749.8,594.1 L750.0,595.6 L750.2,597.1 L750.4,598.6 L750.6,600.1 L750.9,601.6 L751.1,603.0 L751.3,604.5 L751.5,606.0 L751.7,607.5 L751.9,609.0 L752.2,610.5 L752.4,612.0 L752.6,613.4 L752.8,614.9 L753.0,616.4 L753.2,617.9 L753.5,619.4 L753.7,620.9 L753.9,622.4 L754.1,623.8 L754.4,625.3 L754.6,626.8 L754.8,628.3 L755.0,629.8 L755.3,631.3 L755.5,632.7 L755.7,634.2 L755.9,635.7 L756.2,637.2 L756.4,638.7 L756.6,640.2 L756.9,641.6 L757.1,643.1 L757.3,644.6 L757.6,646.1 L757.8,647.6 L758.0,649.1 L758.3,650.5 L758.5,652.0 L758.7,653.5 L759.0,655.0 L759.2,656.5 L759.4,658.0 L759.7,659.4 L759.9,660.9 L760.2,662.4 L760.4,663.9 L760.7,665.4 L760.9,666.8 L761.2,668.3 L761.4,669.8 L761.7,671.3 L761.9,672.8 L762.2,674.3 L762.4,675.7 L762.7,677.2 L762.9,678.7 L763.2,680.2 L763.4,681.7 L763.7,683.1 L763.9,684.6 L764.2,686.1 L764.5,687.6 L764.7,689.0 L765.0,690.5 L765.3,692.0 L765.5,693.5 L765.8,695.0 L766.1,696.4 L766.3,697.9 L766.6,699.4 L766.9,700.9 L767.2,702.3 L767.4,703.8 L767.7,705.3 L768.0,706.8 L768.3,708.2 L768.6,709.7 L768.9,711.2 L769.1,712.7 L769.4,714.1 L769.7,715.6 L770.0,717.1 L770.3,718.6 L770.6,720.0 L770.9,721.5 L771.2,723.0 L771.5,724.4 L771.8,725.9 L772.1,727.4 L772.4,728.9 L772.7,730.3 L773.0,731.8 L773.3,733.3 L773.6,734.7 L773.9,736.2 L774.2,737.7 L774.5,739.1 L774.9,740.6 L775.2,742.1 L775.5,743.5 L775.8,745.0 L776.1,746.5 L776.4,747.9 L776.8,749.4 L777.1,750.9 L777.4,752.3 L777.7,753.8 L778.1,755.3 L778.4,756.7 L778.7,758.2 L779.1,759.7 L779.4,761.1 L779.7,762.6 L780.1,764.1 L780.4,765.5 L780.7,767.0 L781.1,768.5 L781.4,769.9 L781.7,771.4 L782.1,772.8 L782.4,774.3 L782.8,775.8 L783.1,777.2 L783.5,778.7 L783.8,780.2 L784.2,781.6 L784.5,783.1 L784.9,784.5 L785.2,786.0 L785.6,787.5 L785.9,788.9 L786.3,790.4 L786.6,791.8 L787.0,793.3 L787.3,794.7 L787.7,796.2 L788.1,797.7 L788.4,799.1 L788.8,800.6 L789.1,802.0 L789.5,803.5 L789.9,804.9 L790.2,806.4 L790.6,807.9 L791.0,809.3 L791.3,810.8 L791.7,812.2 L792.1,813.7 L792.4,815.1 L792.8,816.6 L793.2,818.0 L793.5,819.5 L793.9,821.0 L794.3,822.4 L794.7,823.9 L795.0,825.3 L795.4,826.8 L795.8,828.2 L796.2,829.7 L796.5,831.1 L796.9,832.6 L797.3,834.0 L797.7,835.5 L798.0,837.0 L798.4,838.4 L798.8,839.9 L799.2,841.3 L799.6,842.8 L799.9,844.2 L800.3,845.7 L800.7,847.1 L801.1,848.6 L801.5,850.0 L801.9,851.5 L802.2,852.9 L802.6,854.4 L803.0,855.8 L803.4,857.3 L803.8,858.7 L804.2,860.2 L804.6,861.6 L804.9,863.1 L805.3,864.5 L805.7,866.0 L806.1,867.4 L806.5,868.9 L806.9,870.3 L807.3,871.8 L807.7,873.2 L808.1,874.7 L808.5,876.1 L808.8,877.6 L809.2,879.0 L809.6,880.5 L810.0,881.9 L810.4,883.4 L810.8,884.8 L811.2,886.3 L811.6,887.7 L812.0,889.2 L812.4,890.6 L812.8,892.1 L813.2,893.5 L813.6,895.0 L814.0,896.4 L814.4,897.8 L814.8,899.3 L815.3,900.7 L815.7,902.2 L816.1,903.6 L816.5,905.1 L816.9,906.5 L817.3,908.0 L817.7,909.4 L818.1,910.8 L818.5,912.3 L818.9,913.7 L819.4,915.2 L819.8,916.6 L820.2,918.1 L820.6,919.5 L821.0,920.9 L821.5,922.4 L821.9,923.8 L822.3,925.3 L822.7,926.7 L823.2,928.1 L823.6,929.6 L824.0,931.0 L824.4,932.5 L824.9,933.9 L825.3,935.3 L825.7,936.8 L826.2,938.2 L826.6,939.6 L827.1,941.1 L827.5,942.5 L827.9,944.0 L828.4,945.4 L828.8,946.8 L829.3,948.3 L829.7,949.7 L830.2,951.1 L830.6,952.6 L831.1,954.0 L831.5,955.4 L832.0,956.8 L832.5,958.3 L832.9,959.7 L833.4,961.1 L833.8,962.6 L834.3,964.0 L834.8,965.4 L835.3,966.8 L835.7,968.3 L836.2,969.7 L836.7,971.1 L837.2,972.5 L837.6,974.0 L838.1,975.4 L838.6,976.8 L839.1,978.2 L839.6,979.6 L840.1,981.0 L840.6,982.5 L841.1,983.9 L841.6,985.3 L842.1,986.7 L842.7,988.1 L843.2,989.5 L843.7,990.9 L844.3,992.3 L844.8,993.7 L845.3,995.1 L845.9,996.5 L846.4,997.9 L847.0,999.3 L847.6,1000.7 L848.1,1002.1 L848.7,1003.5 L849.3,1004.9 L849.9,1006.2 L850.5,1007.6 L851.1,1009.0 L851.7,1010.4 L852.3,1011.7 L853.0,1013.1 L853.6,1014.4 L854.3,1015.8 L854.9,1017.1 L855.6,1018.5 L856.3,1019.8 L857.0,1021.2 L857.7,1022.5 L858.4,1023.8 L859.1,1025.1 L859.8,1026.4 L860.6,1027.7 L861.4,1029.0 L862.1,1030.3 L862.9,1031.6 L863.7,1032.8 L864.6,1034.1 L865.4,1035.3 L866.3,1036.6 L867.1,1037.8 L868.0,1039.0 L868.9,1040.2 L869.9,1041.4 L870.8,1042.5 L871.8,1043.7 L872.8,1044.8 L873.8,1045.9 L874.8,1047.0 L875.8,1048.1 L876.9,1049.2 L878.0,1050.2 L879.1,1051.3 L880.2,1052.3 L881.3,1053.3 L882.4,1054.2 L883.6,1055.2 L884.8,1056.1 L886.0,1057.0 L887.2,1057.9 L888.5,1058.7 L889.7,1059.6 L891.0,1060.4 L892.2,1061.2 L893.5,1061.9 L894.8,1062.7 L896.1,1063.4 L897.5,1064.1 L898.8,1064.8 L900.1,1065.5 L901.5,1066.2 L902.8,1066.9 L904.2,1067.5 L905.5,1068.2 L906.9,1068.8 L908.2,1069.5 L909.6,1070.1 L910.9,1070.8 L912.3,1071.4 L913.7,1072.0 L915.0,1072.7 L916.4,1073.2 L917.8,1073.8 L919.2,1074.3 L920.6,1074.8 L922.1,1075.2 L923.5,1075.6 L925.0,1075.8 L926.5,1076.1" fill="none" stroke="#008000" stroke-width="4.17" stroke-linecap="round" stroke-linejoin="round"/>
<path d="M393,1265.8H396V1301.0H393ZM405,1265.8H410V1301.0H405ZM419,1265.8H425V1301.0H419ZM431,1265.8H434V1301.0H431ZM447,1265.8H452V1301.0H447ZM455,1265.8H470V1301.0H455ZM473,1265.8H479V1301.0H473ZM480,1265.8H856V1301.0H480ZM858,1265.8H871V1301.0H858ZM874,1265.8H877V1301.0H874ZM881,1265.8H887V1301.0H881ZM888,1265.8H897V1301.0H888ZM899,1265.8H902V1301.0H899ZM906,1265.8H910V1301.0H906ZM913,1265.8H916V1301.0H913ZM926,1265.8H929V1301.0H926Z" fill="#008000"/>
<text class="t" x="563.5" y="1395.3" text-anchor="middle">100000</text>
<text class="t" x="1004.5" y="1395.3" text-anchor="middle">120000</text>
<text class="t" x="1445.5" y="1395.3" text-anchor="middle">140000</text>
<text class="t" x="1887.5" y="1395.3" text-anchor="middle">160000</text>
<text class="t" x="2328.5" y="1395.3" text-anchor="middle">180000</text>
<text class="t" x="213.2" y="210.6" text-anchor="end">0.00010</text>
<text class="t" x="213.2" y="391.6" text-anchor="end">0.00008</text>
<text class="t" x="213.2" y="572.6" text-anchor="end">0.00006</text>
<text class="t" x="213.2" y="754.6" text-anchor="end">0.00004</text>
<text class="t" x="213.2" y="935.6" text-anchor="end">0.00002</text>
<text class="t" x="213.2" y="1116.6" text-anchor="end">0.00000</text>
<text class="t" x="213.2" y="1297.6" text-anchor="end">−0.00002</text>
<text class="title" x="1291.7" y="54.0" text-anchor="middle">Response Distribution at 95% HDI (highest density interval)</text>
<line x1="1348.9" y1="122" x2="1426.1" y2="122" stroke="#ffc0cb" stroke-width="4.1" stroke-linecap="round"/>
<text class="t" x="1457.5" y="135.4">Non-Risk optimized allocation</text>
<line x1="1348.9" y1="179" x2="1426.1" y2="179" stroke="#ff0000" stroke-width="4.1" stroke-linecap="round"/>
<text class="t" x="1457.5" y="192.7">MTS with diversification optimized allocation</text>
<line x1="1348.9" y1="237" x2="1426.1" y2="237" stroke="#0000ff" stroke-width="4.1" stroke-linecap="round"/>
<text class="t" x="1457.5" y="250.3">MTS with high risk optimized allocation</text>
<line x1="1348.9" y1="294" x2="1426.1" y2="294" stroke="#000000" stroke-width="4.1" stroke-linecap="round"/>
<text class="t" x="1457.5" y="307.7">MTS ROAS optimized allocation</text>
<line x1="1348.9" y1="352" x2="1426.1" y2="352" stroke="#008000" stroke-width="4.1" stroke-linecap="round"/>
<text class="t" x="1457.5" y="365.1" textLength="740.9" lengthAdjust="spacing">MTS optimized allocation with low risk</text>
</svg></body></html>
